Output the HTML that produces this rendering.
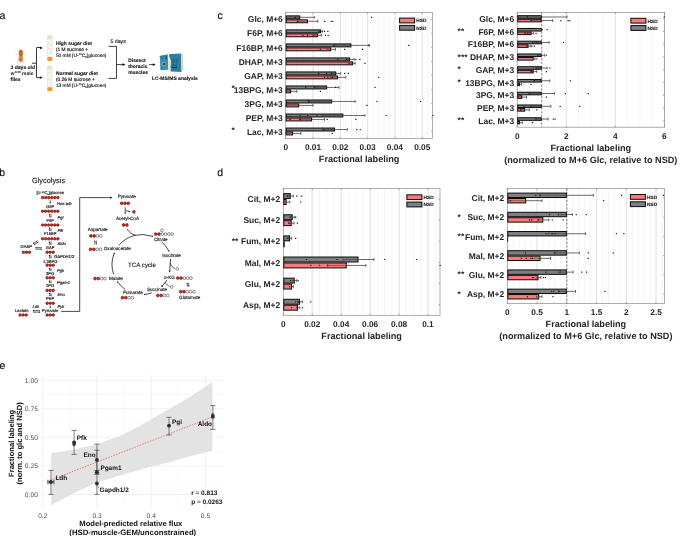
<!DOCTYPE html>
<html><head><meta charset="utf-8"><title>figure</title>
<style>
html,body{margin:0;padding:0;background:#fff;}
body{width:685px;height:536px;overflow:hidden;font-family:"Liberation Sans",sans-serif;}
svg{display:block;font-family:"Liberation Sans",sans-serif;will-change:transform;text-rendering:geometricPrecision;}
</style></head><body>
<svg width="685" height="536" viewBox="0 0 685 536">
<rect width="685" height="536" fill="#ffffff"/>
<text x="-0.60" y="18.78" font-size="10.5" font-weight="normal" font-style="normal" text-anchor="start" fill="#111" stroke="#111" stroke-width="0.15">a</text>
<text x="-0.80" y="175.78" font-size="10.5" font-weight="normal" font-style="normal" text-anchor="start" fill="#111" stroke="#111" stroke-width="0.15">b</text>
<text x="217.50" y="18.78" font-size="10.5" font-weight="normal" font-style="normal" text-anchor="start" fill="#111" stroke="#111" stroke-width="0.15">c</text>
<text x="217.20" y="175.88" font-size="10.5" font-weight="normal" font-style="normal" text-anchor="start" fill="#111" stroke="#111" stroke-width="0.15">d</text>
<text x="-0.50" y="369.18" font-size="10.5" font-weight="normal" font-style="normal" text-anchor="start" fill="#111" stroke="#111" stroke-width="0.15">e</text>
<path d="M291.16 12.30V138.50M296.62 12.30V138.50M302.08 12.30V138.50M307.54 12.30V138.50M313.00 12.30V138.50M318.47 12.30V138.50M323.93 12.30V138.50M329.39 12.30V138.50M334.85 12.30V138.50M340.31 12.30V138.50M345.77 12.30V138.50M351.23 12.30V138.50M356.69 12.30V138.50M362.15 12.30V138.50M367.61 12.30V138.50M373.08 12.30V138.50M378.54 12.30V138.50M384.00 12.30V138.50M389.46 12.30V138.50M394.92 12.30V138.50M400.38 12.30V138.50M405.84 12.30V138.50M411.30 12.30V138.50M416.76 12.30V138.50M422.22 12.30V138.50M427.69 12.30V138.50" stroke="#ececec" stroke-width="0.6" fill="none"/>
<path d="M313.00 12.30V138.50M340.31 12.30V138.50M367.61 12.30V138.50M394.92 12.30V138.50M422.22 12.30V138.50" stroke="#dcdcdc" stroke-width="0.7" fill="none"/>
<rect x="285.70" y="12.30" width="146.90" height="126.20" fill="none" stroke="#8c8c8c" stroke-width="0.7"/>
<path d="M285.70 138.50v-1.5M285.70 12.30v1.5M313.00 138.50v-1.5M313.00 12.30v1.5M340.31 138.50v-1.5M340.31 12.30v1.5M367.61 138.50v-1.5M367.61 12.30v1.5M394.92 138.50v-1.5M394.92 12.30v1.5M422.22 138.50v-1.5M422.22 12.30v1.5M285.70 19.31h1.5M432.60 19.31h-1.5M285.70 33.33h1.5M432.60 33.33h-1.5M285.70 47.36h1.5M432.60 47.36h-1.5M285.70 61.38h1.5M432.60 61.38h-1.5M285.70 75.40h1.5M432.60 75.40h-1.5M285.70 89.42h1.5M432.60 89.42h-1.5M285.70 103.44h1.5M432.60 103.44h-1.5M285.70 117.47h1.5M432.60 117.47h-1.5M285.70 131.49h1.5M432.60 131.49h-1.5" stroke="#777" stroke-width="0.6" fill="none"/>
<path d="M300.19 17.34H314.35M314.35 15.94v2.8" stroke="#3a3a3a" stroke-width="0.75" fill="none"/>
<path d="M307.95 21.28H317.72M317.72 19.88v2.8" stroke="#3a3a3a" stroke-width="0.75" fill="none"/>
<rect x="286.20" y="15.87" width="13.49" height="2.94" fill="#7f7f7f" stroke="#0a0a0a" stroke-width="1"/>
<rect x="286.20" y="19.81" width="21.25" height="2.94" fill="#fd7979" stroke="#0a0a0a" stroke-width="1"/>
<path d="M286.04 17.34H300.19M286.04 16.14v2.4" stroke="#2e2e2e" stroke-width="0.6" fill="none" opacity="0.8"/>
<path d="M298.17 21.28H307.95M298.17 20.08v2.4" stroke="#2e2e2e" stroke-width="0.6" fill="none" opacity="0.8"/>
<rect x="371.04" y="16.72" width="1.24" height="1.24" rx="0.3" fill="#161616"/>
<rect x="294.52" y="16.72" width="1.24" height="1.24" rx="0.3" fill="#161616"/>
<rect x="324.18" y="20.66" width="1.24" height="1.24" rx="0.3" fill="#161616"/>
<rect x="330.59" y="20.66" width="1.24" height="1.24" rx="0.3" fill="#161616"/>
<rect x="332.27" y="20.66" width="1.24" height="1.24" rx="0.3" fill="#161616"/>
<rect x="296.88" y="20.66" width="1.24" height="1.24" rx="0.3" fill="#161616"/>
<text x="282.80" y="22.45" font-size="8.45" font-weight="bold" font-style="normal" text-anchor="end" fill="#262626" >Glc, M+6</text>
<path d="M321.09 31.36H322.44M322.44 29.96v2.8" stroke="#3a3a3a" stroke-width="0.75" fill="none"/>
<path d="M318.06 35.30H321.43M321.43 33.90v2.8" stroke="#3a3a3a" stroke-width="0.75" fill="none"/>
<rect x="286.20" y="29.89" width="34.39" height="2.94" fill="#7f7f7f" stroke="#0a0a0a" stroke-width="1"/>
<rect x="286.20" y="33.83" width="31.36" height="2.94" fill="#fd7979" stroke="#0a0a0a" stroke-width="1"/>
<path d="M314.69 35.30H318.06M314.69 34.10v2.4" stroke="#2e2e2e" stroke-width="0.6" fill="none" opacity="0.8"/>
<rect x="323.85" y="30.74" width="1.24" height="1.24" rx="0.3" fill="#161616"/>
<rect x="327.22" y="30.74" width="1.24" height="1.24" rx="0.3" fill="#161616"/>
<rect x="318.45" y="30.74" width="1.24" height="1.24" rx="0.3" fill="#161616"/>
<rect x="324.86" y="34.68" width="1.24" height="1.24" rx="0.3" fill="#161616"/>
<rect x="327.55" y="34.68" width="1.24" height="1.24" rx="0.3" fill="#161616"/>
<rect x="302.27" y="34.68" width="1.24" height="1.24" rx="0.3" fill="#161616"/>
<rect x="306.99" y="34.68" width="1.24" height="1.24" rx="0.3" fill="#161616"/>
<rect x="312.38" y="34.68" width="1.24" height="1.24" rx="0.3" fill="#161616"/>
<text x="282.80" y="36.48" font-size="8.45" font-weight="bold" font-style="normal" text-anchor="end" fill="#262626" >F6P, M+6</text>
<path d="M351.43 45.39H369.30M369.30 43.99v2.8" stroke="#3a3a3a" stroke-width="0.75" fill="none"/>
<path d="M331.21 49.33H335.59M335.59 47.93v2.8" stroke="#3a3a3a" stroke-width="0.75" fill="none"/>
<rect x="286.20" y="43.92" width="64.73" height="2.94" fill="#7f7f7f" stroke="#0a0a0a" stroke-width="1"/>
<rect x="286.20" y="47.86" width="44.51" height="2.94" fill="#fd7979" stroke="#0a0a0a" stroke-width="1"/>
<path d="M333.57 45.39H351.43M333.57 44.19v2.4" stroke="#2e2e2e" stroke-width="0.6" fill="none" opacity="0.8"/>
<path d="M326.82 49.33H331.21M326.82 48.13v2.4" stroke="#2e2e2e" stroke-width="0.6" fill="none" opacity="0.8"/>
<rect x="408.12" y="44.77" width="1.24" height="1.24" rx="0.3" fill="#161616"/>
<rect x="333.28" y="44.77" width="1.24" height="1.24" rx="0.3" fill="#161616"/>
<rect x="368.00" y="44.77" width="1.24" height="1.24" rx="0.3" fill="#161616"/>
<rect x="344.07" y="48.71" width="1.24" height="1.24" rx="0.3" fill="#161616"/>
<rect x="361.94" y="48.71" width="1.24" height="1.24" rx="0.3" fill="#161616"/>
<rect x="319.80" y="48.71" width="1.24" height="1.24" rx="0.3" fill="#161616"/>
<text x="282.80" y="50.50" font-size="8.45" font-weight="bold" font-style="normal" text-anchor="end" fill="#262626" >F16BP, M+6</text>
<path d="M350.08 59.41H354.13M354.13 58.01v2.8" stroke="#3a3a3a" stroke-width="0.75" fill="none"/>
<path d="M353.12 63.35H355.14M355.14 61.95v2.8" stroke="#3a3a3a" stroke-width="0.75" fill="none"/>
<rect x="286.20" y="57.94" width="63.38" height="2.94" fill="#7f7f7f" stroke="#0a0a0a" stroke-width="1"/>
<rect x="286.20" y="61.88" width="66.42" height="2.94" fill="#fd7979" stroke="#0a0a0a" stroke-width="1"/>
<path d="M346.04 59.41H350.08M346.04 58.21v2.4" stroke="#2e2e2e" stroke-width="0.6" fill="none" opacity="0.8"/>
<path d="M351.10 63.35H353.12M351.10 62.15v2.4" stroke="#2e2e2e" stroke-width="0.6" fill="none" opacity="0.8"/>
<rect x="355.19" y="58.79" width="1.24" height="1.24" rx="0.3" fill="#161616"/>
<rect x="359.24" y="58.79" width="1.24" height="1.24" rx="0.3" fill="#161616"/>
<rect x="337.33" y="58.79" width="1.24" height="1.24" rx="0.3" fill="#161616"/>
<rect x="346.09" y="58.79" width="1.24" height="1.24" rx="0.3" fill="#161616"/>
<rect x="364.30" y="62.73" width="1.24" height="1.24" rx="0.3" fill="#161616"/>
<rect x="348.45" y="62.73" width="1.24" height="1.24" rx="0.3" fill="#161616"/>
<text x="282.80" y="64.52" font-size="8.45" font-weight="bold" font-style="normal" text-anchor="end" fill="#262626" >DHAP, M+3</text>
<path d="M336.26 73.43H340.65M340.65 72.03v2.8" stroke="#3a3a3a" stroke-width="0.75" fill="none"/>
<path d="M337.95 77.37H345.70M345.70 75.97v2.8" stroke="#3a3a3a" stroke-width="0.75" fill="none"/>
<rect x="286.20" y="71.96" width="49.56" height="2.94" fill="#7f7f7f" stroke="#0a0a0a" stroke-width="1"/>
<rect x="286.20" y="75.90" width="51.25" height="2.94" fill="#fd7979" stroke="#0a0a0a" stroke-width="1"/>
<path d="M331.88 73.43H336.26M331.88 72.23v2.4" stroke="#2e2e2e" stroke-width="0.6" fill="none" opacity="0.8"/>
<path d="M330.20 77.37H337.95M330.20 76.17v2.4" stroke="#2e2e2e" stroke-width="0.6" fill="none" opacity="0.8"/>
<rect x="344.07" y="72.81" width="1.24" height="1.24" rx="0.3" fill="#161616"/>
<rect x="347.78" y="72.81" width="1.24" height="1.24" rx="0.3" fill="#161616"/>
<rect x="318.11" y="72.81" width="1.24" height="1.24" rx="0.3" fill="#161616"/>
<rect x="325.87" y="72.81" width="1.24" height="1.24" rx="0.3" fill="#161616"/>
<rect x="330.59" y="72.81" width="1.24" height="1.24" rx="0.3" fill="#161616"/>
<rect x="378.12" y="76.75" width="1.24" height="1.24" rx="0.3" fill="#161616"/>
<rect x="323.85" y="76.75" width="1.24" height="1.24" rx="0.3" fill="#161616"/>
<rect x="327.22" y="76.75" width="1.24" height="1.24" rx="0.3" fill="#161616"/>
<rect x="331.60" y="76.75" width="1.24" height="1.24" rx="0.3" fill="#161616"/>
<text x="282.80" y="78.54" font-size="8.45" font-weight="bold" font-style="normal" text-anchor="end" fill="#262626" >GAP, M+3</text>
<path d="M327.16 87.45H338.96M338.96 86.05v2.8" stroke="#3a3a3a" stroke-width="0.75" fill="none"/>
<path d="M291.09 91.39H296.82M296.82 89.99v2.8" stroke="#3a3a3a" stroke-width="0.75" fill="none"/>
<rect x="286.20" y="85.98" width="40.46" height="2.94" fill="#7f7f7f" stroke="#0a0a0a" stroke-width="1"/>
<rect x="286.20" y="89.92" width="4.39" height="2.94" fill="#fd7979" stroke="#0a0a0a" stroke-width="1"/>
<path d="M315.36 87.45H327.16M315.36 86.25v2.4" stroke="#2e2e2e" stroke-width="0.6" fill="none" opacity="0.8"/>
<path d="M285.70 91.39H291.09M285.70 90.19v2.4" stroke="#2e2e2e" stroke-width="0.6" fill="none" opacity="0.8"/>
<rect x="334.97" y="86.83" width="1.24" height="1.24" rx="0.3" fill="#161616"/>
<rect x="374.41" y="86.83" width="1.24" height="1.24" rx="0.3" fill="#161616"/>
<rect x="304.97" y="86.83" width="1.24" height="1.24" rx="0.3" fill="#161616"/>
<rect x="313.73" y="86.83" width="1.24" height="1.24" rx="0.3" fill="#161616"/>
<rect x="319.80" y="90.77" width="1.24" height="1.24" rx="0.3" fill="#161616"/>
<text x="282.80" y="92.56" font-size="8.45" font-weight="bold" font-style="normal" text-anchor="end" fill="#262626" >13BPG, M+3</text>
<path d="M332.22 101.47H355.14M355.14 100.07v2.8" stroke="#3a3a3a" stroke-width="0.75" fill="none"/>
<path d="M299.18 105.41H313.00M313.00 104.01v2.8" stroke="#3a3a3a" stroke-width="0.75" fill="none"/>
<rect x="286.20" y="100.00" width="45.52" height="2.94" fill="#7f7f7f" stroke="#0a0a0a" stroke-width="1"/>
<rect x="286.20" y="103.94" width="12.48" height="2.94" fill="#fd7979" stroke="#0a0a0a" stroke-width="1"/>
<path d="M309.30 101.47H332.22M309.30 100.27v2.4" stroke="#2e2e2e" stroke-width="0.6" fill="none" opacity="0.8"/>
<path d="M285.70 105.41H299.18M285.70 104.21v2.4" stroke="#2e2e2e" stroke-width="0.6" fill="none" opacity="0.8"/>
<rect x="376.43" y="100.85" width="1.24" height="1.24" rx="0.3" fill="#161616"/>
<rect x="419.92" y="100.85" width="1.24" height="1.24" rx="0.3" fill="#161616"/>
<rect x="308.00" y="100.85" width="1.24" height="1.24" rx="0.3" fill="#161616"/>
<rect x="366.32" y="104.79" width="1.24" height="1.24" rx="0.3" fill="#161616"/>
<text x="282.80" y="106.59" font-size="8.45" font-weight="bold" font-style="normal" text-anchor="end" fill="#262626" >3PG, M+3</text>
<path d="M343.34 115.50H364.92M364.92 114.10v2.8" stroke="#3a3a3a" stroke-width="0.75" fill="none"/>
<path d="M311.99 119.44H324.47M324.47 118.04v2.8" stroke="#3a3a3a" stroke-width="0.75" fill="none"/>
<rect x="286.20" y="114.03" width="56.64" height="2.94" fill="#7f7f7f" stroke="#0a0a0a" stroke-width="1"/>
<rect x="286.20" y="117.97" width="25.29" height="2.94" fill="#fd7979" stroke="#0a0a0a" stroke-width="1"/>
<path d="M321.77 115.50H343.34M321.77 114.30v2.4" stroke="#2e2e2e" stroke-width="0.6" fill="none" opacity="0.8"/>
<path d="M299.52 119.44H311.99M299.52 118.24v2.4" stroke="#2e2e2e" stroke-width="0.6" fill="none" opacity="0.8"/>
<rect x="385.53" y="114.88" width="1.24" height="1.24" rx="0.3" fill="#161616"/>
<rect x="432.39" y="114.88" width="1.24" height="1.24" rx="0.3" fill="#161616"/>
<rect x="299.57" y="114.88" width="1.24" height="1.24" rx="0.3" fill="#161616"/>
<rect x="306.99" y="114.88" width="1.24" height="1.24" rx="0.3" fill="#161616"/>
<rect x="316.43" y="114.88" width="1.24" height="1.24" rx="0.3" fill="#161616"/>
<rect x="326.54" y="118.82" width="1.24" height="1.24" rx="0.3" fill="#161616"/>
<rect x="355.19" y="118.82" width="1.24" height="1.24" rx="0.3" fill="#161616"/>
<rect x="289.46" y="118.82" width="1.24" height="1.24" rx="0.3" fill="#161616"/>
<rect x="299.57" y="118.82" width="1.24" height="1.24" rx="0.3" fill="#161616"/>
<text x="282.80" y="120.61" font-size="8.45" font-weight="bold" font-style="normal" text-anchor="end" fill="#262626" >PEP, M+3</text>
<path d="M334.92 129.52H347.39M347.39 128.12v2.8" stroke="#3a3a3a" stroke-width="0.75" fill="none"/>
<path d="M293.12 133.46H300.87M300.87 132.06v2.8" stroke="#3a3a3a" stroke-width="0.75" fill="none"/>
<rect x="286.20" y="128.05" width="48.22" height="2.94" fill="#7f7f7f" stroke="#0a0a0a" stroke-width="1"/>
<rect x="286.20" y="131.99" width="6.42" height="2.94" fill="#fd7979" stroke="#0a0a0a" stroke-width="1"/>
<path d="M322.44 129.52H334.92M322.44 128.32v2.4" stroke="#2e2e2e" stroke-width="0.6" fill="none" opacity="0.8"/>
<path d="M285.70 133.46H293.12M285.70 132.26v2.4" stroke="#2e2e2e" stroke-width="0.6" fill="none" opacity="0.8"/>
<rect x="356.21" y="128.90" width="1.24" height="1.24" rx="0.3" fill="#161616"/>
<rect x="359.58" y="128.90" width="1.24" height="1.24" rx="0.3" fill="#161616"/>
<rect x="323.17" y="128.90" width="1.24" height="1.24" rx="0.3" fill="#161616"/>
<rect x="331.60" y="132.84" width="1.24" height="1.24" rx="0.3" fill="#161616"/>
<text x="282.80" y="134.63" font-size="8.45" font-weight="bold" font-style="normal" text-anchor="end" fill="#262626" >Lac, M+3</text>
<text x="231.50" y="91.06" font-size="8.45" font-weight="bold" font-style="normal" text-anchor="start" fill="#262626" >*</text>
<text x="231.50" y="133.13" font-size="8.45" font-weight="bold" font-style="normal" text-anchor="start" fill="#262626" >*</text>
<text x="285.70" y="150.09" font-size="8.3" font-weight="bold" font-style="normal" text-anchor="middle" fill="#262626" >0</text>
<text x="313.00" y="150.09" font-size="8.3" font-weight="bold" font-style="normal" text-anchor="middle" fill="#262626" >0.01</text>
<text x="340.31" y="150.09" font-size="8.3" font-weight="bold" font-style="normal" text-anchor="middle" fill="#262626" >0.02</text>
<text x="367.61" y="150.09" font-size="8.3" font-weight="bold" font-style="normal" text-anchor="middle" fill="#262626" >0.03</text>
<text x="394.92" y="150.09" font-size="8.3" font-weight="bold" font-style="normal" text-anchor="middle" fill="#262626" >0.04</text>
<text x="422.22" y="150.09" font-size="8.3" font-weight="bold" font-style="normal" text-anchor="middle" fill="#262626" >0.05</text>
<text x="359.15" y="162.29" font-size="9.15" font-weight="bold" font-style="normal" text-anchor="middle" fill="#262626" >Fractional labeling</text>
<rect x="399.60" y="18.10" width="15" height="4.8" fill="#fd7979" stroke="#0a0a0a" stroke-width="1"/>
<rect x="399.60" y="25.40" width="15" height="4.8" fill="#7f7f7f" stroke="#0a0a0a" stroke-width="1"/>
<text x="416.30" y="22.41" font-size="4.75" font-weight="bold" font-style="normal" text-anchor="start" fill="#111"  stroke="#111" stroke-width="0.1">HSD</text>
<text x="416.30" y="29.71" font-size="4.75" font-weight="bold" font-style="normal" text-anchor="start" fill="#111"  stroke="#111" stroke-width="0.1">NSD</text>
<path d="M529.47 12.40V127.20M541.73 12.40V127.20M554.00 12.40V127.20M566.27 12.40V127.20M578.53 12.40V127.20M590.80 12.40V127.20M603.07 12.40V127.20M615.33 12.40V127.20M627.60 12.40V127.20M639.87 12.40V127.20M652.13 12.40V127.20" stroke="#ececec" stroke-width="0.6" fill="none"/>
<path d="M566.27 12.40V127.20M615.33 12.40V127.20M664.40 12.40V127.20" stroke="#dcdcdc" stroke-width="0.7" fill="none"/>
<path d="M541.73 12.40V127.20" stroke="#555" stroke-width="0.7" stroke-dasharray="2.2 1.6" fill="none"/>
<rect x="517.20" y="12.40" width="147.20" height="114.80" fill="none" stroke="#8c8c8c" stroke-width="0.7"/>
<path d="M517.20 127.20v-1.5M517.20 12.40v1.5M566.27 127.20v-1.5M566.27 12.40v1.5M615.33 127.20v-1.5M615.33 12.40v1.5M664.40 127.20v-1.5M664.40 12.40v1.5M517.20 18.78h1.5M664.40 18.78h-1.5M517.20 31.53h1.5M664.40 31.53h-1.5M517.20 44.29h1.5M664.40 44.29h-1.5M517.20 57.04h1.5M664.40 57.04h-1.5M517.20 69.80h1.5M664.40 69.80h-1.5M517.20 82.56h1.5M664.40 82.56h-1.5M517.20 95.31h1.5M664.40 95.31h-1.5M517.20 108.07h1.5M664.40 108.07h-1.5M517.20 120.82h1.5M664.40 120.82h-1.5" stroke="#777" stroke-width="0.6" fill="none"/>
<path d="M541.73 16.99H567.02M567.02 15.59v2.8" stroke="#3a3a3a" stroke-width="0.75" fill="none"/>
<path d="M541.73 20.57H552.59M552.59 19.17v2.8" stroke="#3a3a3a" stroke-width="0.75" fill="none"/>
<rect x="517.70" y="15.69" width="23.53" height="2.58" fill="#7f7f7f" stroke="#0a0a0a" stroke-width="1"/>
<rect x="517.70" y="19.28" width="23.53" height="2.58" fill="#fd7979" stroke="#0a0a0a" stroke-width="1"/>
<path d="M517.20 16.99H541.73M517.20 15.79v2.4" stroke="#2e2e2e" stroke-width="0.6" fill="none" opacity="0.8"/>
<path d="M530.88 20.57H541.73M530.88 19.37v2.4" stroke="#2e2e2e" stroke-width="0.6" fill="none" opacity="0.8"/>
<rect x="663.64" y="16.37" width="1.24" height="1.24" rx="0.3" fill="#161616"/>
<rect x="526.89" y="16.37" width="1.24" height="1.24" rx="0.3" fill="#161616"/>
<rect x="560.22" y="19.95" width="1.24" height="1.24" rx="0.3" fill="#161616"/>
<rect x="567.43" y="19.95" width="1.24" height="1.24" rx="0.3" fill="#161616"/>
<rect x="569.15" y="19.95" width="1.24" height="1.24" rx="0.3" fill="#161616"/>
<rect x="530.32" y="19.95" width="1.24" height="1.24" rx="0.3" fill="#161616"/>
<text x="514.20" y="21.92" font-size="8.45" font-weight="bold" font-style="normal" text-anchor="end" fill="#262626" >Glc, M+6</text>
<path d="M531.63 33.33H533.69M533.69 31.93v2.8" stroke="#3a3a3a" stroke-width="0.75" fill="none"/>
<rect x="517.70" y="28.45" width="23.53" height="2.58" fill="#7f7f7f" stroke="#0a0a0a" stroke-width="1"/>
<rect x="517.70" y="32.03" width="13.43" height="2.58" fill="#fd7979" stroke="#0a0a0a" stroke-width="1"/>
<path d="M529.57 33.33H531.63M529.57 32.13v2.4" stroke="#2e2e2e" stroke-width="0.6" fill="none" opacity="0.8"/>
<rect x="541.66" y="29.12" width="1.24" height="1.24" rx="0.3" fill="#161616"/>
<rect x="546.47" y="29.12" width="1.24" height="1.24" rx="0.3" fill="#161616"/>
<rect x="535.48" y="32.71" width="1.24" height="1.24" rx="0.3" fill="#161616"/>
<rect x="524.48" y="32.71" width="1.24" height="1.24" rx="0.3" fill="#161616"/>
<rect x="527.23" y="32.71" width="1.24" height="1.24" rx="0.3" fill="#161616"/>
<text x="514.20" y="34.68" font-size="8.45" font-weight="bold" font-style="normal" text-anchor="end" fill="#262626" >F6P, M+6</text>
<path d="M541.73 42.50H549.16M549.16 41.10v2.8" stroke="#3a3a3a" stroke-width="0.75" fill="none"/>
<path d="M528.54 46.08H530.94M530.94 44.68v2.8" stroke="#3a3a3a" stroke-width="0.75" fill="none"/>
<rect x="517.70" y="41.20" width="23.53" height="2.58" fill="#7f7f7f" stroke="#0a0a0a" stroke-width="1"/>
<rect x="517.70" y="44.79" width="10.34" height="2.58" fill="#fd7979" stroke="#0a0a0a" stroke-width="1"/>
<path d="M534.31 42.50H541.73M534.31 41.30v2.4" stroke="#2e2e2e" stroke-width="0.6" fill="none" opacity="0.8"/>
<path d="M526.13 46.08H528.54M526.13 44.88v2.4" stroke="#2e2e2e" stroke-width="0.6" fill="none" opacity="0.8"/>
<rect x="562.97" y="41.88" width="1.24" height="1.24" rx="0.3" fill="#161616"/>
<rect x="532.04" y="41.88" width="1.24" height="1.24" rx="0.3" fill="#161616"/>
<rect x="536.17" y="41.88" width="1.24" height="1.24" rx="0.3" fill="#161616"/>
<rect x="533.76" y="45.46" width="1.24" height="1.24" rx="0.3" fill="#161616"/>
<rect x="531.35" y="45.46" width="1.24" height="1.24" rx="0.3" fill="#161616"/>
<text x="514.20" y="47.43" font-size="8.45" font-weight="bold" font-style="normal" text-anchor="end" fill="#262626" >F16BP, M+6</text>
<path d="M541.73 55.25H544.69M544.69 53.85v2.8" stroke="#3a3a3a" stroke-width="0.75" fill="none"/>
<path d="M533.69 58.84H535.07M535.07 57.44v2.8" stroke="#3a3a3a" stroke-width="0.75" fill="none"/>
<rect x="517.70" y="53.96" width="23.53" height="2.58" fill="#7f7f7f" stroke="#0a0a0a" stroke-width="1"/>
<rect x="517.70" y="57.54" width="15.49" height="2.58" fill="#fd7979" stroke="#0a0a0a" stroke-width="1"/>
<path d="M538.78 55.25H541.73M538.78 54.05v2.4" stroke="#2e2e2e" stroke-width="0.6" fill="none" opacity="0.8"/>
<rect x="545.79" y="54.63" width="1.24" height="1.24" rx="0.3" fill="#161616"/>
<rect x="537.20" y="54.63" width="1.24" height="1.24" rx="0.3" fill="#161616"/>
<rect x="536.17" y="58.22" width="1.24" height="1.24" rx="0.3" fill="#161616"/>
<text x="514.20" y="60.19" font-size="8.45" font-weight="bold" font-style="normal" text-anchor="end" fill="#262626" >DHAP, M+3</text>
<path d="M541.73 68.01H547.09M547.09 66.61v2.8" stroke="#3a3a3a" stroke-width="0.75" fill="none"/>
<path d="M533.69 71.59H536.79M536.79 70.19v2.8" stroke="#3a3a3a" stroke-width="0.75" fill="none"/>
<rect x="517.70" y="66.72" width="23.53" height="2.58" fill="#7f7f7f" stroke="#0a0a0a" stroke-width="1"/>
<rect x="517.70" y="70.30" width="15.49" height="2.58" fill="#fd7979" stroke="#0a0a0a" stroke-width="1"/>
<path d="M536.37 68.01H541.73M536.37 66.81v2.4" stroke="#2e2e2e" stroke-width="0.6" fill="none" opacity="0.8"/>
<path d="M530.60 71.59H533.69M530.60 70.39v2.4" stroke="#2e2e2e" stroke-width="0.6" fill="none" opacity="0.8"/>
<rect x="549.22" y="67.39" width="1.24" height="1.24" rx="0.3" fill="#161616"/>
<rect x="535.48" y="67.39" width="1.24" height="1.24" rx="0.3" fill="#161616"/>
<rect x="538.23" y="67.39" width="1.24" height="1.24" rx="0.3" fill="#161616"/>
<rect x="545.79" y="70.97" width="1.24" height="1.24" rx="0.3" fill="#161616"/>
<rect x="530.67" y="70.97" width="1.24" height="1.24" rx="0.3" fill="#161616"/>
<text x="514.20" y="72.94" font-size="8.45" font-weight="bold" font-style="normal" text-anchor="end" fill="#262626" >GAP, M+3</text>
<path d="M541.73 80.76H549.84M549.84 79.36v2.8" stroke="#3a3a3a" stroke-width="0.75" fill="none"/>
<path d="M519.95 84.35H521.67M521.67 82.95v2.8" stroke="#3a3a3a" stroke-width="0.75" fill="none"/>
<rect x="517.70" y="79.47" width="23.53" height="2.58" fill="#7f7f7f" stroke="#0a0a0a" stroke-width="1"/>
<rect x="517.70" y="83.06" width="1.75" height="2.58" fill="#fd7979" stroke="#0a0a0a" stroke-width="1"/>
<path d="M533.62 80.76H541.73M533.62 79.56v2.4" stroke="#2e2e2e" stroke-width="0.6" fill="none" opacity="0.8"/>
<path d="M518.23 84.35H519.95M518.23 83.15v2.4" stroke="#2e2e2e" stroke-width="0.6" fill="none" opacity="0.8"/>
<rect x="569.84" y="80.14" width="1.24" height="1.24" rx="0.3" fill="#161616"/>
<rect x="533.76" y="80.14" width="1.24" height="1.24" rx="0.3" fill="#161616"/>
<rect x="530.32" y="83.73" width="1.24" height="1.24" rx="0.3" fill="#161616"/>
<text x="514.20" y="85.70" font-size="8.45" font-weight="bold" font-style="normal" text-anchor="end" fill="#262626" >13BPG, M+3</text>
<path d="M541.73 93.52H554.31M554.31 92.12v2.8" stroke="#3a3a3a" stroke-width="0.75" fill="none"/>
<path d="M522.35 97.10H526.48M526.48 95.70v2.8" stroke="#3a3a3a" stroke-width="0.75" fill="none"/>
<rect x="517.70" y="92.23" width="23.53" height="2.58" fill="#7f7f7f" stroke="#0a0a0a" stroke-width="1"/>
<rect x="517.70" y="95.81" width="4.15" height="2.58" fill="#fd7979" stroke="#0a0a0a" stroke-width="1"/>
<path d="M529.16 93.52H541.73M529.16 92.32v2.4" stroke="#2e2e2e" stroke-width="0.6" fill="none" opacity="0.8"/>
<path d="M518.23 97.10H522.35M518.23 95.90v2.4" stroke="#2e2e2e" stroke-width="0.6" fill="none" opacity="0.8"/>
<rect x="564.68" y="92.90" width="1.24" height="1.24" rx="0.3" fill="#161616"/>
<rect x="587.71" y="92.90" width="1.24" height="1.24" rx="0.3" fill="#161616"/>
<rect x="528.61" y="92.90" width="1.24" height="1.24" rx="0.3" fill="#161616"/>
<rect x="545.79" y="96.48" width="1.24" height="1.24" rx="0.3" fill="#161616"/>
<text x="514.20" y="98.45" font-size="8.45" font-weight="bold" font-style="normal" text-anchor="end" fill="#262626" >3PG, M+3</text>
<path d="M541.73 106.27H550.87M550.87 104.87v2.8" stroke="#3a3a3a" stroke-width="0.75" fill="none"/>
<path d="M525.10 109.86H529.23M529.23 108.46v2.8" stroke="#3a3a3a" stroke-width="0.75" fill="none"/>
<rect x="517.70" y="104.98" width="23.53" height="2.58" fill="#7f7f7f" stroke="#0a0a0a" stroke-width="1"/>
<rect x="517.70" y="108.57" width="6.90" height="2.58" fill="#fd7979" stroke="#0a0a0a" stroke-width="1"/>
<path d="M532.59 106.27H541.73M532.59 105.07v2.4" stroke="#2e2e2e" stroke-width="0.6" fill="none" opacity="0.8"/>
<path d="M520.98 109.86H525.10M520.98 108.66v2.4" stroke="#2e2e2e" stroke-width="0.6" fill="none" opacity="0.8"/>
<rect x="559.53" y="105.65" width="1.24" height="1.24" rx="0.3" fill="#161616"/>
<rect x="579.12" y="105.65" width="1.24" height="1.24" rx="0.3" fill="#161616"/>
<rect x="523.45" y="105.65" width="1.24" height="1.24" rx="0.3" fill="#161616"/>
<rect x="530.32" y="105.65" width="1.24" height="1.24" rx="0.3" fill="#161616"/>
<rect x="536.17" y="109.24" width="1.24" height="1.24" rx="0.3" fill="#161616"/>
<rect x="520.02" y="109.24" width="1.24" height="1.24" rx="0.3" fill="#161616"/>
<text x="514.20" y="111.21" font-size="8.45" font-weight="bold" font-style="normal" text-anchor="end" fill="#262626" >PEP, M+3</text>
<path d="M541.73 119.03H548.12M548.12 117.63v2.8" stroke="#3a3a3a" stroke-width="0.75" fill="none"/>
<path d="M519.95 122.61H522.35M522.35 121.21v2.8" stroke="#3a3a3a" stroke-width="0.75" fill="none"/>
<rect x="517.70" y="117.74" width="23.53" height="2.58" fill="#7f7f7f" stroke="#0a0a0a" stroke-width="1"/>
<rect x="517.70" y="121.32" width="1.75" height="2.58" fill="#fd7979" stroke="#0a0a0a" stroke-width="1"/>
<path d="M535.34 119.03H541.73M535.34 117.83v2.4" stroke="#2e2e2e" stroke-width="0.6" fill="none" opacity="0.8"/>
<path d="M517.54 122.61H519.95M517.54 121.41v2.4" stroke="#2e2e2e" stroke-width="0.6" fill="none" opacity="0.8"/>
<rect x="552.66" y="118.41" width="1.24" height="1.24" rx="0.3" fill="#161616"/>
<rect x="554.38" y="118.41" width="1.24" height="1.24" rx="0.3" fill="#161616"/>
<rect x="535.48" y="118.41" width="1.24" height="1.24" rx="0.3" fill="#161616"/>
<rect x="532.04" y="121.99" width="1.24" height="1.24" rx="0.3" fill="#161616"/>
<text x="514.20" y="123.96" font-size="8.45" font-weight="bold" font-style="normal" text-anchor="end" fill="#262626" >Lac, M+3</text>
<text x="457.60" y="34.18" font-size="8.45" font-weight="bold" font-style="normal" text-anchor="start" fill="#262626" >**</text>
<text x="457.60" y="59.69" font-size="8.45" font-weight="bold" font-style="normal" text-anchor="start" fill="#262626" >***</text>
<text x="457.60" y="72.44" font-size="8.45" font-weight="bold" font-style="normal" text-anchor="start" fill="#262626" >*</text>
<text x="457.60" y="85.20" font-size="8.45" font-weight="bold" font-style="normal" text-anchor="start" fill="#262626" >*</text>
<text x="457.60" y="123.46" font-size="8.45" font-weight="bold" font-style="normal" text-anchor="start" fill="#262626" >**</text>
<text x="517.20" y="138.79" font-size="8.3" font-weight="bold" font-style="normal" text-anchor="middle" fill="#262626" >0</text>
<text x="566.27" y="138.79" font-size="8.3" font-weight="bold" font-style="normal" text-anchor="middle" fill="#262626" >2</text>
<text x="615.33" y="138.79" font-size="8.3" font-weight="bold" font-style="normal" text-anchor="middle" fill="#262626" >4</text>
<text x="664.40" y="138.79" font-size="8.3" font-weight="bold" font-style="normal" text-anchor="middle" fill="#262626" >6</text>
<text x="590.80" y="150.99" font-size="9.15" font-weight="bold" font-style="normal" text-anchor="middle" fill="#262626" >Fractional labeling</text>
<text x="590.80" y="162.69" font-size="9.15" font-weight="bold" font-style="normal" text-anchor="middle" fill="#262626" >(normalized to M+6 Glc, relative to NSD)</text>
<rect x="630.90" y="18.30" width="15" height="4.8" fill="#fd7979" stroke="#0a0a0a" stroke-width="1"/>
<rect x="630.90" y="25.60" width="15" height="4.8" fill="#7f7f7f" stroke="#0a0a0a" stroke-width="1"/>
<text x="647.60" y="22.61" font-size="4.75" font-weight="bold" font-style="normal" text-anchor="start" fill="#111"  stroke="#111" stroke-width="0.1">HSD</text>
<text x="647.60" y="29.91" font-size="4.75" font-weight="bold" font-style="normal" text-anchor="start" fill="#111"  stroke="#111" stroke-width="0.1">NSD</text>
<path d="M290.53 188.50V315.30M297.77 188.50V315.30M305.00 188.50V315.30M312.24 188.50V315.30M319.47 188.50V315.30M326.71 188.50V315.30M333.94 188.50V315.30M341.18 188.50V315.30M348.41 188.50V315.30M355.65 188.50V315.30M362.88 188.50V315.30M370.11 188.50V315.30M377.35 188.50V315.30M384.58 188.50V315.30M391.82 188.50V315.30M399.05 188.50V315.30M406.29 188.50V315.30M413.52 188.50V315.30M420.76 188.50V315.30M427.99 188.50V315.30M435.23 188.50V315.30" stroke="#ececec" stroke-width="0.6" fill="none"/>
<path d="M312.24 188.50V315.30M341.18 188.50V315.30M370.11 188.50V315.30M399.05 188.50V315.30M427.99 188.50V315.30" stroke="#dcdcdc" stroke-width="0.7" fill="none"/>
<rect x="283.30" y="188.50" width="156.70" height="126.80" fill="none" stroke="#8c8c8c" stroke-width="0.7"/>
<path d="M283.30 315.30v-1.5M283.30 188.50v1.5M312.24 315.30v-1.5M312.24 188.50v1.5M341.18 315.30v-1.5M341.18 188.50v1.5M370.11 315.30v-1.5M370.11 188.50v1.5M399.05 315.30v-1.5M399.05 188.50v1.5M427.99 315.30v-1.5M427.99 188.50v1.5M283.30 199.07h1.5M440.00 199.07h-1.5M283.30 220.20h1.5M440.00 220.20h-1.5M283.30 241.33h1.5M440.00 241.33h-1.5M283.30 262.47h1.5M440.00 262.47h-1.5M283.30 283.60h1.5M440.00 283.60h-1.5M283.30 304.73h1.5M440.00 304.73h-1.5" stroke="#777" stroke-width="0.6" fill="none"/>
<path d="M290.69 196.10H293.37M293.37 194.70v2.8" stroke="#3a3a3a" stroke-width="0.75" fill="none"/>
<path d="M286.66 202.04H289.68M289.68 200.64v2.8" stroke="#3a3a3a" stroke-width="0.75" fill="none"/>
<rect x="283.80" y="193.63" width="6.39" height="4.94" fill="#7f7f7f" stroke="#0a0a0a" stroke-width="1"/>
<rect x="283.80" y="199.57" width="2.36" height="4.94" fill="#fd7979" stroke="#0a0a0a" stroke-width="1"/>
<path d="M288.00 196.10H290.69M288.00 194.90v2.4" stroke="#2e2e2e" stroke-width="0.6" fill="none" opacity="0.8"/>
<path d="M283.64 202.04H286.66M283.64 200.84v2.4" stroke="#2e2e2e" stroke-width="0.6" fill="none" opacity="0.8"/>
<rect x="296.11" y="195.48" width="1.24" height="1.24" rx="0.3" fill="#161616"/>
<rect x="301.15" y="195.48" width="1.24" height="1.24" rx="0.3" fill="#161616"/>
<rect x="286.71" y="195.48" width="1.24" height="1.24" rx="0.3" fill="#161616"/>
<rect x="300.14" y="201.42" width="1.24" height="1.24" rx="0.3" fill="#161616"/>
<text x="280.20" y="202.21" font-size="8.45" font-weight="bold" font-style="normal" text-anchor="end" fill="#262626" >Cit, M+2</text>
<path d="M292.70 217.23H294.72M294.72 215.83v2.8" stroke="#3a3a3a" stroke-width="0.75" fill="none"/>
<path d="M291.69 223.17H294.04M294.04 221.77v2.8" stroke="#3a3a3a" stroke-width="0.75" fill="none"/>
<rect x="283.80" y="214.76" width="8.40" height="4.94" fill="#7f7f7f" stroke="#0a0a0a" stroke-width="1"/>
<rect x="283.80" y="220.70" width="7.39" height="4.94" fill="#fd7979" stroke="#0a0a0a" stroke-width="1"/>
<path d="M290.69 217.23H292.70M290.69 216.03v2.4" stroke="#2e2e2e" stroke-width="0.6" fill="none" opacity="0.8"/>
<path d="M289.34 223.17H291.69M289.34 221.97v2.4" stroke="#2e2e2e" stroke-width="0.6" fill="none" opacity="0.8"/>
<rect x="295.10" y="216.61" width="1.24" height="1.24" rx="0.3" fill="#161616"/>
<rect x="289.40" y="216.61" width="1.24" height="1.24" rx="0.3" fill="#161616"/>
<rect x="296.78" y="222.55" width="1.24" height="1.24" rx="0.3" fill="#161616"/>
<rect x="288.05" y="222.55" width="1.24" height="1.24" rx="0.3" fill="#161616"/>
<text x="280.20" y="223.34" font-size="8.45" font-weight="bold" font-style="normal" text-anchor="end" fill="#262626" >Suc, M+2</text>
<path d="M290.02 238.36H291.69M291.69 236.96v2.8" stroke="#3a3a3a" stroke-width="0.75" fill="none"/>
<rect x="283.80" y="235.89" width="5.72" height="4.94" fill="#7f7f7f" stroke="#0a0a0a" stroke-width="1"/>
<rect x="283.80" y="241.83" width="0.40" height="4.94" fill="#fd7979" stroke="#0a0a0a" stroke-width="1"/>
<path d="M288.34 238.36H290.02M288.34 237.16v2.4" stroke="#2e2e2e" stroke-width="0.6" fill="none" opacity="0.8"/>
<rect x="295.10" y="237.74" width="1.24" height="1.24" rx="0.3" fill="#161616"/>
<rect x="286.71" y="237.74" width="1.24" height="1.24" rx="0.3" fill="#161616"/>
<text x="280.20" y="244.48" font-size="8.45" font-weight="bold" font-style="normal" text-anchor="end" fill="#262626" >Fum, M+2</text>
<path d="M358.51 259.50H373.96M373.96 258.10v2.8" stroke="#3a3a3a" stroke-width="0.75" fill="none"/>
<path d="M346.76 265.44H365.90M365.90 264.04v2.8" stroke="#3a3a3a" stroke-width="0.75" fill="none"/>
<rect x="283.80" y="257.03" width="74.21" height="4.94" fill="#7f7f7f" stroke="#0a0a0a" stroke-width="1"/>
<rect x="283.80" y="262.97" width="62.46" height="4.94" fill="#fd7979" stroke="#0a0a0a" stroke-width="1"/>
<path d="M343.07 259.50H358.51M343.07 258.30v2.4" stroke="#2e2e2e" stroke-width="0.6" fill="none" opacity="0.8"/>
<path d="M327.62 265.44H346.76M327.62 264.24v2.4" stroke="#2e2e2e" stroke-width="0.6" fill="none" opacity="0.8"/>
<rect x="384.08" y="258.88" width="1.24" height="1.24" rx="0.3" fill="#161616"/>
<rect x="415.98" y="258.88" width="1.24" height="1.24" rx="0.3" fill="#161616"/>
<rect x="305.85" y="258.88" width="1.24" height="1.24" rx="0.3" fill="#161616"/>
<rect x="336.40" y="258.88" width="1.24" height="1.24" rx="0.3" fill="#161616"/>
<rect x="439.49" y="264.82" width="1.24" height="1.24" rx="0.3" fill="#161616"/>
<rect x="310.21" y="264.82" width="1.24" height="1.24" rx="0.3" fill="#161616"/>
<rect x="318.94" y="264.82" width="1.24" height="1.24" rx="0.3" fill="#161616"/>
<rect x="327.00" y="264.82" width="1.24" height="1.24" rx="0.3" fill="#161616"/>
<text x="280.20" y="265.61" font-size="8.45" font-weight="bold" font-style="normal" text-anchor="end" fill="#262626" >Mal, M+2</text>
<path d="M294.72 280.63H296.73M296.73 279.23v2.8" stroke="#3a3a3a" stroke-width="0.75" fill="none"/>
<path d="M292.03 286.57H293.37M293.37 285.17v2.8" stroke="#3a3a3a" stroke-width="0.75" fill="none"/>
<rect x="283.80" y="278.16" width="10.42" height="4.94" fill="#7f7f7f" stroke="#0a0a0a" stroke-width="1"/>
<rect x="283.80" y="284.10" width="7.73" height="4.94" fill="#fd7979" stroke="#0a0a0a" stroke-width="1"/>
<path d="M292.70 280.63H294.72M292.70 279.43v2.4" stroke="#2e2e2e" stroke-width="0.6" fill="none" opacity="0.8"/>
<rect x="297.45" y="280.01" width="1.24" height="1.24" rx="0.3" fill="#161616"/>
<rect x="290.07" y="280.01" width="1.24" height="1.24" rx="0.3" fill="#161616"/>
<rect x="289.06" y="285.95" width="1.24" height="1.24" rx="0.3" fill="#161616"/>
<text x="280.20" y="286.74" font-size="8.45" font-weight="bold" font-style="normal" text-anchor="end" fill="#262626" >Glu, M+2</text>
<path d="M300.09 301.76H302.44M302.44 300.36v2.8" stroke="#3a3a3a" stroke-width="0.75" fill="none"/>
<path d="M298.07 307.70H299.75M299.75 306.30v2.8" stroke="#3a3a3a" stroke-width="0.75" fill="none"/>
<rect x="283.80" y="299.29" width="15.79" height="4.94" fill="#7f7f7f" stroke="#0a0a0a" stroke-width="1"/>
<rect x="283.80" y="305.23" width="13.77" height="4.94" fill="#fd7979" stroke="#0a0a0a" stroke-width="1"/>
<path d="M297.74 301.76H300.09M297.74 300.56v2.4" stroke="#2e2e2e" stroke-width="0.6" fill="none" opacity="0.8"/>
<path d="M296.40 307.70H298.07M296.40 306.50v2.4" stroke="#2e2e2e" stroke-width="0.6" fill="none" opacity="0.8"/>
<rect x="310.21" y="301.14" width="1.24" height="1.24" rx="0.3" fill="#161616"/>
<rect x="295.10" y="301.14" width="1.24" height="1.24" rx="0.3" fill="#161616"/>
<rect x="297.45" y="301.14" width="1.24" height="1.24" rx="0.3" fill="#161616"/>
<rect x="301.82" y="307.08" width="1.24" height="1.24" rx="0.3" fill="#161616"/>
<rect x="291.07" y="307.08" width="1.24" height="1.24" rx="0.3" fill="#161616"/>
<text x="280.20" y="307.88" font-size="8.45" font-weight="bold" font-style="normal" text-anchor="end" fill="#262626" >Asp, M+2</text>
<text x="231.80" y="243.98" font-size="8.45" font-weight="bold" font-style="normal" text-anchor="start" fill="#262626" >**</text>
<text x="283.30" y="326.89" font-size="8.3" font-weight="bold" font-style="normal" text-anchor="middle" fill="#262626" >0</text>
<text x="312.24" y="326.89" font-size="8.3" font-weight="bold" font-style="normal" text-anchor="middle" fill="#262626" >0.02</text>
<text x="341.18" y="326.89" font-size="8.3" font-weight="bold" font-style="normal" text-anchor="middle" fill="#262626" >0.04</text>
<text x="370.11" y="326.89" font-size="8.3" font-weight="bold" font-style="normal" text-anchor="middle" fill="#262626" >0.06</text>
<text x="399.05" y="326.89" font-size="8.3" font-weight="bold" font-style="normal" text-anchor="middle" fill="#262626" >0.08</text>
<text x="427.99" y="326.89" font-size="8.3" font-weight="bold" font-style="normal" text-anchor="middle" fill="#262626" >0.1</text>
<text x="361.65" y="339.09" font-size="9.15" font-weight="bold" font-style="normal" text-anchor="middle" fill="#262626" >Fractional labeling</text>
<rect x="406.90" y="194.80" width="15" height="4.8" fill="#fd7979" stroke="#0a0a0a" stroke-width="1"/>
<rect x="406.90" y="202.10" width="15" height="4.8" fill="#7f7f7f" stroke="#0a0a0a" stroke-width="1"/>
<text x="423.60" y="199.11" font-size="4.75" font-weight="bold" font-style="normal" text-anchor="start" fill="#111"  stroke="#111" stroke-width="0.1">HSD</text>
<text x="423.60" y="206.41" font-size="4.75" font-weight="bold" font-style="normal" text-anchor="start" fill="#111"  stroke="#111" stroke-width="0.1">NSD</text>
<path d="M513.25 188.40V303.65M519.20 188.40V303.65M525.15 188.40V303.65M531.10 188.40V303.65M537.05 188.40V303.65M543.00 188.40V303.65M548.95 188.40V303.65M554.90 188.40V303.65M560.85 188.40V303.65M566.80 188.40V303.65M572.75 188.40V303.65M578.70 188.40V303.65M584.65 188.40V303.65M590.60 188.40V303.65M596.55 188.40V303.65M602.50 188.40V303.65M608.45 188.40V303.65M614.40 188.40V303.65M620.35 188.40V303.65M626.30 188.40V303.65M632.25 188.40V303.65M638.20 188.40V303.65M644.15 188.40V303.65M650.10 188.40V303.65M656.05 188.40V303.65M662.00 188.40V303.65" stroke="#ececec" stroke-width="0.6" fill="none"/>
<path d="M537.05 188.40V303.65M566.80 188.40V303.65M596.55 188.40V303.65M626.30 188.40V303.65M656.05 188.40V303.65" stroke="#dcdcdc" stroke-width="0.7" fill="none"/>
<path d="M566.80 188.40V303.65" stroke="#555" stroke-width="0.7" stroke-dasharray="2.2 1.6" fill="none"/>
<rect x="507.30" y="188.40" width="157.20" height="115.25" fill="none" stroke="#8c8c8c" stroke-width="0.7"/>
<path d="M507.30 303.65v-1.5M507.30 188.40v1.5M537.05 303.65v-1.5M537.05 188.40v1.5M566.80 303.65v-1.5M566.80 188.40v1.5M596.55 303.65v-1.5M596.55 188.40v1.5M626.30 303.65v-1.5M626.30 188.40v1.5M656.05 303.65v-1.5M656.05 188.40v1.5M507.30 198.00h1.5M664.50 198.00h-1.5M507.30 217.21h1.5M664.50 217.21h-1.5M507.30 236.42h1.5M664.50 236.42h-1.5M507.30 255.63h1.5M664.50 255.63h-1.5M507.30 274.84h1.5M664.50 274.84h-1.5M507.30 294.05h1.5M664.50 294.05h-1.5" stroke="#777" stroke-width="0.6" fill="none"/>
<path d="M566.80 195.31H593.38M593.38 193.91v2.8" stroke="#3a3a3a" stroke-width="0.75" fill="none"/>
<path d="M526.16 200.70H541.94M541.94 199.30v2.8" stroke="#3a3a3a" stroke-width="0.75" fill="none"/>
<rect x="507.80" y="193.11" width="58.50" height="4.40" fill="#7f7f7f" stroke="#0a0a0a" stroke-width="1"/>
<rect x="507.80" y="198.50" width="17.86" height="4.40" fill="#fd7979" stroke="#0a0a0a" stroke-width="1"/>
<path d="M540.22 195.31H566.80M540.22 194.11v2.4" stroke="#2e2e2e" stroke-width="0.6" fill="none" opacity="0.8"/>
<path d="M510.39 200.70H526.16M510.39 199.50v2.4" stroke="#2e2e2e" stroke-width="0.6" fill="none" opacity="0.8"/>
<rect x="620.88" y="194.69" width="1.24" height="1.24" rx="0.3" fill="#161616"/>
<rect x="662.72" y="194.69" width="1.24" height="1.24" rx="0.3" fill="#161616"/>
<rect x="535.14" y="194.69" width="1.24" height="1.24" rx="0.3" fill="#161616"/>
<rect x="539.26" y="194.69" width="1.24" height="1.24" rx="0.3" fill="#161616"/>
<rect x="603.05" y="200.08" width="1.24" height="1.24" rx="0.3" fill="#161616"/>
<rect x="509.42" y="200.08" width="1.24" height="1.24" rx="0.3" fill="#161616"/>
<text x="504.20" y="201.15" font-size="8.45" font-weight="bold" font-style="normal" text-anchor="end" fill="#262626" >Cit, M+2</text>
<path d="M566.80 214.51H572.46M572.46 213.11v2.8" stroke="#3a3a3a" stroke-width="0.75" fill="none"/>
<path d="M543.31 219.91H548.80M548.80 218.51v2.8" stroke="#3a3a3a" stroke-width="0.75" fill="none"/>
<rect x="507.80" y="212.31" width="58.50" height="4.40" fill="#7f7f7f" stroke="#0a0a0a" stroke-width="1"/>
<rect x="507.80" y="217.71" width="35.01" height="4.40" fill="#fd7979" stroke="#0a0a0a" stroke-width="1"/>
<path d="M561.14 214.51H566.80M561.14 213.31v2.4" stroke="#2e2e2e" stroke-width="0.6" fill="none" opacity="0.8"/>
<path d="M537.82 219.91H543.31M537.82 218.71v2.4" stroke="#2e2e2e" stroke-width="0.6" fill="none" opacity="0.8"/>
<rect x="575.61" y="213.89" width="1.24" height="1.24" rx="0.3" fill="#161616"/>
<rect x="585.56" y="213.89" width="1.24" height="1.24" rx="0.3" fill="#161616"/>
<rect x="548.86" y="213.89" width="1.24" height="1.24" rx="0.3" fill="#161616"/>
<rect x="557.78" y="213.89" width="1.24" height="1.24" rx="0.3" fill="#161616"/>
<rect x="551.61" y="219.29" width="1.24" height="1.24" rx="0.3" fill="#161616"/>
<rect x="562.58" y="219.29" width="1.24" height="1.24" rx="0.3" fill="#161616"/>
<rect x="528.97" y="219.29" width="1.24" height="1.24" rx="0.3" fill="#161616"/>
<rect x="531.03" y="219.29" width="1.24" height="1.24" rx="0.3" fill="#161616"/>
<rect x="537.89" y="219.29" width="1.24" height="1.24" rx="0.3" fill="#161616"/>
<text x="504.20" y="220.35" font-size="8.45" font-weight="bold" font-style="normal" text-anchor="end" fill="#262626" >Suc, M+2</text>
<path d="M566.80 233.72H585.49M585.49 232.32v2.8" stroke="#3a3a3a" stroke-width="0.75" fill="none"/>
<rect x="507.80" y="231.52" width="58.50" height="4.40" fill="#7f7f7f" stroke="#0a0a0a" stroke-width="1"/>
<rect x="507.30" y="236.42" width="0.9" height="5.40" fill="#0a0a0a"/>
<path d="M548.11 233.72H566.80M548.11 232.52v2.4" stroke="#2e2e2e" stroke-width="0.6" fill="none" opacity="0.8"/>
<rect x="615.74" y="233.10" width="1.24" height="1.24" rx="0.3" fill="#161616"/>
<rect x="623.28" y="233.10" width="1.24" height="1.24" rx="0.3" fill="#161616"/>
<rect x="545.43" y="233.10" width="1.24" height="1.24" rx="0.3" fill="#161616"/>
<rect x="551.61" y="233.10" width="1.24" height="1.24" rx="0.3" fill="#161616"/>
<rect x="554.35" y="233.10" width="1.24" height="1.24" rx="0.3" fill="#161616"/>
<text x="504.20" y="239.56" font-size="8.45" font-weight="bold" font-style="normal" text-anchor="end" fill="#262626" >Fum, M+2</text>
<path d="M566.80 252.93H579.32M579.32 251.53v2.8" stroke="#3a3a3a" stroke-width="0.75" fill="none"/>
<path d="M540.57 258.33H550.51M550.51 256.93v2.8" stroke="#3a3a3a" stroke-width="0.75" fill="none"/>
<rect x="507.80" y="250.73" width="58.50" height="4.40" fill="#7f7f7f" stroke="#0a0a0a" stroke-width="1"/>
<rect x="507.80" y="256.13" width="32.27" height="4.40" fill="#fd7979" stroke="#0a0a0a" stroke-width="1"/>
<path d="M554.28 252.93H566.80M554.28 251.73v2.4" stroke="#2e2e2e" stroke-width="0.6" fill="none" opacity="0.8"/>
<path d="M530.62 258.33H540.57M530.62 257.13v2.4" stroke="#2e2e2e" stroke-width="0.6" fill="none" opacity="0.8"/>
<rect x="587.61" y="252.31" width="1.24" height="1.24" rx="0.3" fill="#161616"/>
<rect x="612.65" y="252.31" width="1.24" height="1.24" rx="0.3" fill="#161616"/>
<rect x="524.86" y="252.31" width="1.24" height="1.24" rx="0.3" fill="#161616"/>
<rect x="554.35" y="252.31" width="1.24" height="1.24" rx="0.3" fill="#161616"/>
<rect x="587.61" y="257.71" width="1.24" height="1.24" rx="0.3" fill="#161616"/>
<rect x="520.74" y="257.71" width="1.24" height="1.24" rx="0.3" fill="#161616"/>
<rect x="525.54" y="257.71" width="1.24" height="1.24" rx="0.3" fill="#161616"/>
<rect x="531.71" y="257.71" width="1.24" height="1.24" rx="0.3" fill="#161616"/>
<text x="504.20" y="258.77" font-size="8.45" font-weight="bold" font-style="normal" text-anchor="end" fill="#262626" >Mal, M+2</text>
<path d="M566.80 272.14H573.14M573.14 270.74v2.8" stroke="#3a3a3a" stroke-width="0.75" fill="none"/>
<path d="M538.51 277.54H540.91M540.91 276.14v2.8" stroke="#3a3a3a" stroke-width="0.75" fill="none"/>
<rect x="507.80" y="269.94" width="58.50" height="4.40" fill="#7f7f7f" stroke="#0a0a0a" stroke-width="1"/>
<rect x="507.80" y="275.34" width="30.21" height="4.40" fill="#fd7979" stroke="#0a0a0a" stroke-width="1"/>
<path d="M560.46 272.14H566.80M560.46 270.94v2.4" stroke="#2e2e2e" stroke-width="0.6" fill="none" opacity="0.8"/>
<path d="M536.11 277.54H538.51M536.11 276.34v2.4" stroke="#2e2e2e" stroke-width="0.6" fill="none" opacity="0.8"/>
<rect x="581.10" y="271.52" width="1.24" height="1.24" rx="0.3" fill="#161616"/>
<rect x="585.90" y="271.52" width="1.24" height="1.24" rx="0.3" fill="#161616"/>
<rect x="545.43" y="271.52" width="1.24" height="1.24" rx="0.3" fill="#161616"/>
<rect x="558.46" y="271.52" width="1.24" height="1.24" rx="0.3" fill="#161616"/>
<rect x="542.69" y="276.92" width="1.24" height="1.24" rx="0.3" fill="#161616"/>
<rect x="544.75" y="276.92" width="1.24" height="1.24" rx="0.3" fill="#161616"/>
<rect x="531.71" y="276.92" width="1.24" height="1.24" rx="0.3" fill="#161616"/>
<rect x="533.09" y="276.92" width="1.24" height="1.24" rx="0.3" fill="#161616"/>
<text x="504.20" y="277.98" font-size="8.45" font-weight="bold" font-style="normal" text-anchor="end" fill="#262626" >Glu, M+2</text>
<path d="M566.80 291.35H575.55M575.55 289.95v2.8" stroke="#3a3a3a" stroke-width="0.75" fill="none"/>
<path d="M539.19 296.74H541.94M541.94 295.34v2.8" stroke="#3a3a3a" stroke-width="0.75" fill="none"/>
<rect x="507.80" y="289.15" width="58.50" height="4.40" fill="#7f7f7f" stroke="#0a0a0a" stroke-width="1"/>
<rect x="507.80" y="294.55" width="30.89" height="4.40" fill="#fd7979" stroke="#0a0a0a" stroke-width="1"/>
<path d="M558.06 291.35H566.80M558.06 290.15v2.4" stroke="#2e2e2e" stroke-width="0.6" fill="none" opacity="0.8"/>
<path d="M536.45 296.74H539.19M536.45 295.54v2.4" stroke="#2e2e2e" stroke-width="0.6" fill="none" opacity="0.8"/>
<rect x="604.42" y="290.73" width="1.24" height="1.24" rx="0.3" fill="#161616"/>
<rect x="550.92" y="290.73" width="1.24" height="1.24" rx="0.3" fill="#161616"/>
<rect x="552.98" y="290.73" width="1.24" height="1.24" rx="0.3" fill="#161616"/>
<rect x="558.46" y="290.73" width="1.24" height="1.24" rx="0.3" fill="#161616"/>
<rect x="552.29" y="296.12" width="1.24" height="1.24" rx="0.3" fill="#161616"/>
<rect x="526.91" y="296.12" width="1.24" height="1.24" rx="0.3" fill="#161616"/>
<text x="504.20" y="297.19" font-size="8.45" font-weight="bold" font-style="normal" text-anchor="end" fill="#262626" >Asp, M+2</text>
<text x="457.60" y="219.85" font-size="8.45" font-weight="bold" font-style="normal" text-anchor="start" fill="#262626" >*</text>
<text x="457.60" y="239.06" font-size="8.45" font-weight="bold" font-style="normal" text-anchor="start" fill="#262626" >**</text>
<text x="457.60" y="277.48" font-size="8.45" font-weight="bold" font-style="normal" text-anchor="start" fill="#262626" >**</text>
<text x="457.60" y="296.69" font-size="8.45" font-weight="bold" font-style="normal" text-anchor="start" fill="#262626" >*</text>
<text x="507.30" y="315.24" font-size="8.3" font-weight="bold" font-style="normal" text-anchor="middle" fill="#262626" >0</text>
<text x="537.05" y="315.24" font-size="8.3" font-weight="bold" font-style="normal" text-anchor="middle" fill="#262626" >0.5</text>
<text x="566.80" y="315.24" font-size="8.3" font-weight="bold" font-style="normal" text-anchor="middle" fill="#262626" >1</text>
<text x="596.55" y="315.24" font-size="8.3" font-weight="bold" font-style="normal" text-anchor="middle" fill="#262626" >1.5</text>
<text x="626.30" y="315.24" font-size="8.3" font-weight="bold" font-style="normal" text-anchor="middle" fill="#262626" >2</text>
<text x="656.05" y="315.24" font-size="8.3" font-weight="bold" font-style="normal" text-anchor="middle" fill="#262626" >2.5</text>
<text x="585.90" y="327.44" font-size="9.15" font-weight="bold" font-style="normal" text-anchor="middle" fill="#262626" >Fractional labeling</text>
<text x="585.90" y="339.14" font-size="9.15" font-weight="bold" font-style="normal" text-anchor="middle" fill="#262626" >(normalized to M+6 Glc, relative to NSD)</text>
<rect x="630.40" y="194.50" width="15" height="4.8" fill="#fd7979" stroke="#0a0a0a" stroke-width="1"/>
<rect x="630.40" y="201.80" width="15" height="4.8" fill="#7f7f7f" stroke="#0a0a0a" stroke-width="1"/>
<text x="647.10" y="198.81" font-size="4.75" font-weight="bold" font-style="normal" text-anchor="start" fill="#111"  stroke="#111" stroke-width="0.1">HSD</text>
<text x="647.10" y="206.11" font-size="4.75" font-weight="bold" font-style="normal" text-anchor="start" fill="#111"  stroke="#111" stroke-width="0.1">NSD</text>
<path d="M41.00 494.40H224.00M41.00 465.85H224.00M41.00 437.30H224.00M41.00 408.75H224.00M41.00 380.20H224.00M42.80 374.70V509.00M97.03 374.70V509.00M151.26 374.70V509.00M205.49 374.70V509.00" stroke="#e6e6e6" stroke-width="0.55" fill="none"/>
<path d="M41.00 480.12H224.00M41.00 451.57H224.00M41.00 423.02H224.00M41.00 394.47H224.00M69.91 374.70V509.00M124.14 374.70V509.00M178.38 374.70V509.00" stroke="#f1f1f1" stroke-width="0.4" fill="none"/>
<polygon points="51.19,453.35 73.13,449.69 96.89,444.20 120.66,435.80 146.25,422.27 168.19,409.47 190.13,396.67 212.43,382.05 212.43,450.79 190.13,456.27 168.19,462.49 146.25,467.97 120.66,475.28 96.89,482.60 73.13,493.56 51.19,505.27" fill="#e3e3e3"/>
<path d="M50.9 480.0L212.9 416.8" stroke="#ee5a4a" stroke-width="0.8" stroke-dasharray="1.5 1.3" fill="none"/>
<path d="M50.90 470.40V494.40M48.30 470.40h5.2M48.30 494.40h5.2" stroke="#4a4a4a" stroke-width="0.7" fill="none"/>
<path d="M74.10 430.40V454.40M71.50 430.40h5.2M71.50 454.40h5.2" stroke="#4a4a4a" stroke-width="0.7" fill="none"/>
<path d="M96.90 444.10V470.50M94.30 444.10h5.2M94.30 470.50h5.2" stroke="#4a4a4a" stroke-width="0.7" fill="none"/>
<path d="M96.90 450.20V473.00M94.30 450.20h5.2M94.30 473.00h5.2" stroke="#4a4a4a" stroke-width="0.7" fill="none"/>
<path d="M96.90 474.50V494.40M94.30 474.50h5.2M94.30 494.40h5.2" stroke="#4a4a4a" stroke-width="0.7" fill="none"/>
<path d="M169.00 417.30V435.00M166.40 417.30h5.2M166.40 435.00h5.2" stroke="#4a4a4a" stroke-width="0.7" fill="none"/>
<path d="M212.90 405.60V429.40M210.30 405.60h5.2M210.30 429.40h5.2" stroke="#4a4a4a" stroke-width="0.7" fill="none"/>
<path d="M47.9 482H53.9M47.9 479.8v4.4M53.9 479.8v4.4" stroke="#333" stroke-width="0.9" fill="none"/>
<path d="M95 472.2H98.8" stroke="#4a4a4a" stroke-width="0.7" fill="none"/>
<circle cx="50.90" cy="482.00" r="1.9" fill="#2b2b2b"/>
<text x="55.40" y="480.12" font-size="6.45" font-weight="bold" font-style="normal" text-anchor="start" fill="#111" >Ldh</text>
<circle cx="74.10" cy="442.50" r="1.9" fill="#2b2b2b"/>
<text x="76.80" y="439.62" font-size="6.45" font-weight="bold" font-style="normal" text-anchor="start" fill="#111" >Pfk</text>
<circle cx="96.90" cy="459.90" r="1.9" fill="#2b2b2b"/>
<text x="95.60" y="456.72" font-size="6.45" font-weight="bold" font-style="normal" text-anchor="end" fill="#111" >Eno</text>
<circle cx="96.90" cy="472.20" r="1.9" fill="#2b2b2b"/>
<text x="100.40" y="469.52" font-size="6.45" font-weight="bold" font-style="normal" text-anchor="start" fill="#111" >Pgam1</text>
<circle cx="96.90" cy="483.50" r="1.9" fill="#2b2b2b"/>
<text x="99.40" y="491.62" font-size="6.45" font-weight="bold" font-style="normal" text-anchor="start" fill="#111" >Gapdh1/2</text>
<circle cx="169.00" cy="425.70" r="1.9" fill="#2b2b2b"/>
<text x="172.00" y="423.52" font-size="6.45" font-weight="bold" font-style="normal" text-anchor="start" fill="#111" >Pgi</text>
<circle cx="212.90" cy="416.80" r="1.9" fill="#2b2b2b"/>
<text x="212.00" y="425.72" font-size="6.45" font-weight="bold" font-style="normal" text-anchor="end" fill="#111" >Aldo</text>
<circle cx="74.1" cy="444.4" r="1.8" fill="#2b2b2b" opacity="0.8"/><circle cx="212.8" cy="415.0" r="1.8" fill="#2b2b2b" opacity="0.8"/>
<path d="M94.3 456.5L96.2 458.6M99.8 468.6L97.9 470.6M98.9 488.3L97.6 485.4" stroke="#444" stroke-width="0.5" fill="none"/>
<text x="37.90" y="496.81" font-size="6.7" font-weight="normal" font-style="normal" text-anchor="end" fill="#4d4d4d" >0.00</text>
<text x="37.90" y="468.26" font-size="6.7" font-weight="normal" font-style="normal" text-anchor="end" fill="#4d4d4d" >0.25</text>
<text x="37.90" y="439.71" font-size="6.7" font-weight="normal" font-style="normal" text-anchor="end" fill="#4d4d4d" >0.50</text>
<text x="37.90" y="411.16" font-size="6.7" font-weight="normal" font-style="normal" text-anchor="end" fill="#4d4d4d" >0.75</text>
<text x="37.90" y="382.61" font-size="6.7" font-weight="normal" font-style="normal" text-anchor="end" fill="#4d4d4d" >1.00</text>
<text x="42.80" y="517.61" font-size="6.7" font-weight="normal" font-style="normal" text-anchor="middle" fill="#4d4d4d" >0.2</text>
<text x="97.03" y="517.61" font-size="6.7" font-weight="normal" font-style="normal" text-anchor="middle" fill="#4d4d4d" >0.3</text>
<text x="151.26" y="517.61" font-size="6.7" font-weight="normal" font-style="normal" text-anchor="middle" fill="#4d4d4d" >0.4</text>
<text x="205.49" y="517.61" font-size="6.7" font-weight="normal" font-style="normal" text-anchor="middle" fill="#4d4d4d" >0.5</text>
<text x="191.20" y="494.64" font-size="6.5" font-weight="bold" font-style="normal" text-anchor="start" fill="#111" >r = 0.813</text>
<text x="191.20" y="503.94" font-size="6.5" font-weight="bold" font-style="normal" text-anchor="start" fill="#111" >p = 0.0263</text>
<text x="130.80" y="525.74" font-size="7.6" font-weight="bold" font-style="normal" text-anchor="middle" fill="#111" >Model-predicted relative flux</text>
<text x="132.80" y="534.80" font-size="7.78" font-weight="bold" font-style="normal" text-anchor="middle" fill="#111" >(HSD-muscle-GEM/unconstrained)</text>
<g transform="translate(11.0 443.4) rotate(-90)">
<text x="0.00" y="2.74" font-size="7.6" font-weight="bold" font-style="normal" text-anchor="middle" fill="#111" >Fractional labeling</text>
<text x="0.00" y="11.24" font-size="7.6" font-weight="bold" font-style="normal" text-anchor="middle" fill="#111" >(norm. to glc and NSD)</text>
</g>
<g>
<path d="M19.6 53.3L17.0 50.6M22.0 53.3L24.9 50.6M19.3 54.6L14.6 54.1M22.5 54.6L27.4 54.1M19.6 57.5L17.2 61.5M22.2 57.5L24.6 61.5" stroke="#ebbd8f" stroke-width="0.55" fill="none" opacity="0.85"/>
<ellipse cx="19.5" cy="59.6" rx="1.9" ry="4.2" fill="#f0dcc4" opacity="0.8" transform="rotate(10 19.5 59.6)"/>
<ellipse cx="22.2" cy="59.6" rx="1.9" ry="4.2" fill="#f0dcc4" opacity="0.8" transform="rotate(-10 22.2 59.6)"/>
<ellipse cx="20.85" cy="58.4" rx="2.2" ry="3.4" fill="#cf9a68"/>
<ellipse cx="20.85" cy="59.4" rx="1.2" ry="2.0" fill="#b8794a"/>
<ellipse cx="20.85" cy="53.2" rx="2.0" ry="3.2" fill="#cc640f"/>
<ellipse cx="20.85" cy="50.7" rx="1.5" ry="1.0" fill="#c25a10"/>
</g>
<text x="10.60" y="68.90" font-size="5.0" font-weight="bold" font-style="normal" text-anchor="start" fill="#111"  stroke="#111" stroke-width="0.1">3 days old</text>
<text x="10.6" y="75.00" font-size="5" font-weight="bold" font-style="italic" fill="#111">w<tspan font-size="3" dy="-1.8">1118</tspan><tspan dy="1.8" font-style="normal"> male</tspan></text>
<text x="10.60" y="81.00" font-size="5.0" font-weight="bold" font-style="normal" text-anchor="start" fill="#111"  stroke="#111" stroke-width="0.1">flies</text>
<path d="M31.9 63.2H36.5M36.5 47.9V77.6M36.5 47.5H40.4M36.5 77.6H40.4" stroke="#222" stroke-width="0.9" fill="none"/>
<path d="M42.8 47.9l-2.9 -1.4v2.8zM42.8 77.6l-2.9 -1.4v2.8z" fill="#111"/>
<rect x="47.35" y="35.50" width="5.0" height="25.2" rx="0.7" fill="#f8f5ef"/>
<path d="M47.55 38.50V57.50M52.15 38.50V57.50" stroke="#e2dbcd" stroke-width="0.5"/>
<rect x="47.35" y="35.50" width="5.0" height="3.7" rx="0.7" fill="#e7dfd0"/>
<rect x="47.35" y="57.10" width="5.0" height="3.8" rx="0.6" fill="#f29a1f"/>
<path d="M48.55 42.50h0.8M50.35 45.00h0.8M48.85 49.00h0.8M50.15 52.50h0.8" stroke="#e3a55a" stroke-width="0.6"/>
<rect x="47.35" y="65.70" width="5.0" height="25.2" rx="0.7" fill="#f8f5ef"/>
<path d="M47.55 68.70V87.70M52.15 68.70V87.70" stroke="#e2dbcd" stroke-width="0.5"/>
<rect x="47.35" y="65.70" width="5.0" height="3.7" rx="0.7" fill="#e7dfd0"/>
<rect x="47.35" y="87.30" width="5.0" height="3.8" rx="0.6" fill="#f29a1f"/>
<path d="M48.55 72.70h0.8M50.35 75.20h0.8M48.85 79.20h0.8M50.15 82.70h0.8" stroke="#e3a55a" stroke-width="0.6"/>
<text x="55.90" y="44.58" font-size="4.95" font-weight="bold" font-style="normal" text-anchor="start" fill="#111"  stroke="#111" stroke-width="0.1">High sugar diet</text>
<text x="55.90" y="50.75" font-size="4.85" font-weight="normal" font-style="normal" text-anchor="start" fill="#111"  stroke="#111" stroke-width="0.16">(1 M sucrose +</text>
<text x="55.9" y="57.00" font-size="4.85" fill="#111" stroke="#111" stroke-width="0.12">50 mM [U-<tspan font-size="2.9" dy="-1.6">13</tspan><tspan dy="1.6">C</tspan><tspan font-size="2.9" dy="0.9">6</tspan><tspan dy="-0.9">]glucose)</tspan></text>
<text x="55.90" y="74.98" font-size="4.95" font-weight="bold" font-style="normal" text-anchor="start" fill="#111"  stroke="#111" stroke-width="0.1">Normal sugar diet</text>
<text x="55.90" y="81.05" font-size="4.85" font-weight="normal" font-style="normal" text-anchor="start" fill="#111"  stroke="#111" stroke-width="0.16">(0.26 M sucrose +</text>
<text x="55.9" y="86.90" font-size="4.85" fill="#111" stroke="#111" stroke-width="0.12">13 mM [U-<tspan font-size="2.9" dy="-1.6">13</tspan><tspan dy="1.6">C</tspan><tspan font-size="2.9" dy="0.9">6</tspan><tspan dy="-0.9">]glucose)</tspan></text>
<text x="110.40" y="42.89" font-size="5.25" font-weight="normal" font-style="normal" text-anchor="start" fill="#111" stroke="#111" stroke-width="0.12">5 days</text>
<path d="M108.4 46.4H116.5V78.4H108.4M116.5 64.6H123" stroke="#111" stroke-width="0.8" fill="none"/>
<path d="M125.4 64.6l-2.9 -1.4v2.8z" fill="#111"/>
<text x="128.20" y="62.08" font-size="4.95" font-weight="bold" font-style="normal" text-anchor="start" fill="#111"  stroke="#111" stroke-width="0.1">Dissect</text>
<text x="128.20" y="67.98" font-size="4.95" font-weight="bold" font-style="normal" text-anchor="start" fill="#111"  stroke="#111" stroke-width="0.1">thoracic</text>
<text x="128.20" y="73.88" font-size="4.95" font-weight="bold" font-style="normal" text-anchor="start" fill="#111"  stroke="#111" stroke-width="0.1">muscles</text>
<path d="M149.2 64.6H153.4" stroke="#111" stroke-width="0.8" fill="none"/>
<path d="M155.7 64.6l-2.9 -1.4v2.8z" fill="#111"/>
<g>
<path d="M159.8 56.0L167.9 54.6L168.6 69.7L160.4 70.3Z" fill="#3b8fb2"/>
<path d="M159.8 56.0L167.9 54.6L168.0 56.0L159.9 57.3Z" fill="#2f7d9e"/>
<path d="M167.6 54.6L171.2 53.9L171.0 71.4L168.4 69.8Z" fill="#ebe8df"/>
<path d="M169.2 54.2C168.6 57.5 171.6 59.6 170.8 62.6C169.6 65.0 171.2 67.5 170.6 71.2L172.4 71.5L172.4 53.8Z" fill="#2a80a2"/>
<path d="M171.6 53.9L181.1 53.4L181.5 71.9L171.6 71.5Z" fill="#2a80a2"/>
<path d="M181.1 53.6L183.1 54.8L183.3 70.2L181.5 71.6Z" fill="#d9d3c3"/>
<circle cx="169.6" cy="63.9" r="1.5" fill="#e4e0d6"/>
<rect x="172.3" y="58.8" width="5.0" height="7.4" fill="#1e6b8b"/>
<rect x="174.0" y="59.7" width="1.5" height="4.0" fill="#4b9ab8"/>
<rect x="174.45" y="60.2" width="0.6" height="2.8" fill="#1a3f50"/>
<rect x="171.8" y="66.9" width="5.2" height="1.2" fill="#0f3a4c"/>
<circle cx="164.2" cy="64.0" r="2.0" fill="#7fb4c8"/><circle cx="164.2" cy="64.0" r="1.35" fill="#3f4c55"/>
<rect x="161.4" y="57.7" width="1.7" height="1.5" fill="#235f7a"/>
<rect x="165.5" y="56.2" width="1.6" height="3.4" fill="#1f5570"/>
<rect x="161.0" y="66.5" width="1.0" height="2.8" fill="#2a7393"/>
<circle cx="179.7" cy="55.6" r="0.45" fill="#7fe08a"/>
</g>
<text x="152.00" y="79.70" font-size="5.0" font-weight="bold" font-style="normal" text-anchor="start" fill="#111"  stroke="#111" stroke-width="0.1">LC-MS/MS analysis</text>
<text x="31.90" y="183.36" font-size="7.4" font-weight="normal" font-style="normal" text-anchor="start" fill="#1a1a1a" stroke="#1a1a1a" stroke-width="0.14">Glycolysis</text>
<text x="50.20" y="194.10" font-size="4.1" text-anchor="middle" fill="#1a1a1a" stroke="#1a1a1a" stroke-width="0.16">[U-<tspan font-size="2.3" dy="-1.2">13</tspan><tspan dy="1.2">C</tspan><tspan font-size="2.3" dy="0.7">6</tspan><tspan dy="-0.7">]glucose</tspan></text>
<circle cx="42.58" cy="197.60" r="1.3" fill="#e8241a" stroke="#3f0c08" stroke-width="0.55"/>
<circle cx="45.62" cy="197.60" r="1.3" fill="#e8241a" stroke="#3f0c08" stroke-width="0.55"/>
<circle cx="48.68" cy="197.60" r="1.3" fill="#e8241a" stroke="#3f0c08" stroke-width="0.55"/>
<circle cx="51.73" cy="197.60" r="1.3" fill="#e8241a" stroke="#3f0c08" stroke-width="0.55"/>
<circle cx="54.78" cy="197.60" r="1.3" fill="#e8241a" stroke="#3f0c08" stroke-width="0.55"/>
<circle cx="57.83" cy="197.60" r="1.3" fill="#e8241a" stroke="#3f0c08" stroke-width="0.55"/>
<circle cx="42.58" cy="211.20" r="1.3" fill="#e8241a" stroke="#3f0c08" stroke-width="0.55"/>
<circle cx="45.62" cy="211.20" r="1.3" fill="#e8241a" stroke="#3f0c08" stroke-width="0.55"/>
<circle cx="48.68" cy="211.20" r="1.3" fill="#e8241a" stroke="#3f0c08" stroke-width="0.55"/>
<circle cx="51.73" cy="211.20" r="1.3" fill="#e8241a" stroke="#3f0c08" stroke-width="0.55"/>
<circle cx="54.78" cy="211.20" r="1.3" fill="#e8241a" stroke="#3f0c08" stroke-width="0.55"/>
<circle cx="57.83" cy="211.20" r="1.3" fill="#e8241a" stroke="#3f0c08" stroke-width="0.55"/>
<circle cx="42.58" cy="225.00" r="1.3" fill="#e8241a" stroke="#3f0c08" stroke-width="0.55"/>
<circle cx="45.62" cy="225.00" r="1.3" fill="#e8241a" stroke="#3f0c08" stroke-width="0.55"/>
<circle cx="48.68" cy="225.00" r="1.3" fill="#e8241a" stroke="#3f0c08" stroke-width="0.55"/>
<circle cx="51.73" cy="225.00" r="1.3" fill="#e8241a" stroke="#3f0c08" stroke-width="0.55"/>
<circle cx="54.78" cy="225.00" r="1.3" fill="#e8241a" stroke="#3f0c08" stroke-width="0.55"/>
<circle cx="57.83" cy="225.00" r="1.3" fill="#e8241a" stroke="#3f0c08" stroke-width="0.55"/>
<circle cx="42.58" cy="238.80" r="1.3" fill="#e8241a" stroke="#3f0c08" stroke-width="0.55"/>
<circle cx="45.62" cy="238.80" r="1.3" fill="#e8241a" stroke="#3f0c08" stroke-width="0.55"/>
<circle cx="48.68" cy="238.80" r="1.3" fill="#e8241a" stroke="#3f0c08" stroke-width="0.55"/>
<circle cx="51.73" cy="238.80" r="1.3" fill="#e8241a" stroke="#3f0c08" stroke-width="0.55"/>
<circle cx="54.78" cy="238.80" r="1.3" fill="#e8241a" stroke="#3f0c08" stroke-width="0.55"/>
<circle cx="57.83" cy="238.80" r="1.3" fill="#e8241a" stroke="#3f0c08" stroke-width="0.55"/>
<circle cx="47.15" cy="252.20" r="1.3" fill="#e8241a" stroke="#3f0c08" stroke-width="0.55"/>
<circle cx="50.20" cy="252.20" r="1.3" fill="#e8241a" stroke="#3f0c08" stroke-width="0.55"/>
<circle cx="53.25" cy="252.20" r="1.3" fill="#e8241a" stroke="#3f0c08" stroke-width="0.55"/>
<circle cx="47.15" cy="265.20" r="1.3" fill="#e8241a" stroke="#3f0c08" stroke-width="0.55"/>
<circle cx="50.20" cy="265.20" r="1.3" fill="#e8241a" stroke="#3f0c08" stroke-width="0.55"/>
<circle cx="53.25" cy="265.20" r="1.3" fill="#e8241a" stroke="#3f0c08" stroke-width="0.55"/>
<circle cx="47.15" cy="277.80" r="1.3" fill="#e8241a" stroke="#3f0c08" stroke-width="0.55"/>
<circle cx="50.20" cy="277.80" r="1.3" fill="#e8241a" stroke="#3f0c08" stroke-width="0.55"/>
<circle cx="53.25" cy="277.80" r="1.3" fill="#e8241a" stroke="#3f0c08" stroke-width="0.55"/>
<circle cx="47.15" cy="290.40" r="1.3" fill="#e8241a" stroke="#3f0c08" stroke-width="0.55"/>
<circle cx="50.20" cy="290.40" r="1.3" fill="#e8241a" stroke="#3f0c08" stroke-width="0.55"/>
<circle cx="53.25" cy="290.40" r="1.3" fill="#e8241a" stroke="#3f0c08" stroke-width="0.55"/>
<circle cx="47.15" cy="303.30" r="1.3" fill="#e8241a" stroke="#3f0c08" stroke-width="0.55"/>
<circle cx="50.20" cy="303.30" r="1.3" fill="#e8241a" stroke="#3f0c08" stroke-width="0.55"/>
<circle cx="53.25" cy="303.30" r="1.3" fill="#e8241a" stroke="#3f0c08" stroke-width="0.55"/>
<circle cx="47.15" cy="315.00" r="1.3" fill="#e8241a" stroke="#3f0c08" stroke-width="0.55"/>
<circle cx="50.20" cy="315.00" r="1.3" fill="#e8241a" stroke="#3f0c08" stroke-width="0.55"/>
<circle cx="53.25" cy="315.00" r="1.3" fill="#e8241a" stroke="#3f0c08" stroke-width="0.55"/>
<text x="50.20" y="207.98" font-size="4.1" font-weight="normal" font-style="normal" text-anchor="middle" fill="#1a1a1a"  stroke="#1a1a1a" stroke-width="0.16">G6P</text>
<text x="50.20" y="221.68" font-size="4.1" font-weight="normal" font-style="normal" text-anchor="middle" fill="#1a1a1a"  stroke="#1a1a1a" stroke-width="0.16">F6P</text>
<text x="50.20" y="235.48" font-size="4.1" font-weight="normal" font-style="normal" text-anchor="middle" fill="#1a1a1a"  stroke="#1a1a1a" stroke-width="0.16">F16BP</text>
<text x="50.20" y="249.08" font-size="4.1" font-weight="normal" font-style="normal" text-anchor="middle" fill="#1a1a1a"  stroke="#1a1a1a" stroke-width="0.16">GAP</text>
<text x="50.20" y="262.78" font-size="4.1" font-weight="normal" font-style="normal" text-anchor="middle" fill="#1a1a1a"  stroke="#1a1a1a" stroke-width="0.16">1,3BPG</text>
<text x="50.20" y="275.18" font-size="4.1" font-weight="normal" font-style="normal" text-anchor="middle" fill="#1a1a1a"  stroke="#1a1a1a" stroke-width="0.16">3PG</text>
<text x="50.20" y="287.48" font-size="4.1" font-weight="normal" font-style="normal" text-anchor="middle" fill="#1a1a1a"  stroke="#1a1a1a" stroke-width="0.16">2PG</text>
<text x="50.20" y="300.38" font-size="4.1" font-weight="normal" font-style="normal" text-anchor="middle" fill="#1a1a1a"  stroke="#1a1a1a" stroke-width="0.16">PEP</text>
<text x="50.20" y="312.08" font-size="4.1" font-weight="normal" font-style="normal" text-anchor="middle" fill="#1a1a1a"  stroke="#1a1a1a" stroke-width="0.16">Pyruvate</text>
<path d="M50.20 199.80V203.10" stroke="#1a1a1a" stroke-width="0.6" fill="none"/>
<path d="M50.20 204.00l-0.8 -1.4h1.6z" fill="#1a1a1a"/>
<path d="M49.45 214.40V217.40M50.95 213.80V216.80" stroke="#1a1a1a" stroke-width="0.65" fill="none"/>
<path d="M49.45 213.40l-0.8 1.4h1.6zM50.95 217.80l-0.8 -1.4h1.6z" fill="#1a1a1a"/>
<path d="M49.45 228.20V231.20M50.95 227.60V230.60" stroke="#1a1a1a" stroke-width="0.65" fill="none"/>
<path d="M49.45 227.20l-0.8 1.4h1.6zM50.95 231.60l-0.8 -1.4h1.6z" fill="#1a1a1a"/>
<path d="M49.45 242.00V244.80M50.95 241.40V244.20" stroke="#1a1a1a" stroke-width="0.65" fill="none"/>
<path d="M49.45 241.00l-0.8 1.4h1.6zM50.95 245.20l-0.8 -1.4h1.6z" fill="#1a1a1a"/>
<path d="M49.45 255.60V258.40M50.95 255.00V257.80" stroke="#1a1a1a" stroke-width="0.65" fill="none"/>
<path d="M49.45 254.60l-0.8 1.4h1.6zM50.95 258.80l-0.8 -1.4h1.6z" fill="#1a1a1a"/>
<path d="M49.45 268.40V270.80M50.95 267.80V270.20" stroke="#1a1a1a" stroke-width="0.65" fill="none"/>
<path d="M49.45 267.40l-0.8 1.4h1.6zM50.95 271.20l-0.8 -1.4h1.6z" fill="#1a1a1a"/>
<path d="M49.45 281.00V283.20M50.95 280.40V282.60" stroke="#1a1a1a" stroke-width="0.65" fill="none"/>
<path d="M49.45 280.00l-0.8 1.4h1.6zM50.95 283.60l-0.8 -1.4h1.6z" fill="#1a1a1a"/>
<path d="M49.45 293.60V296.00M50.95 293.00V295.40" stroke="#1a1a1a" stroke-width="0.65" fill="none"/>
<path d="M49.45 292.60l-0.8 1.4h1.6zM50.95 296.40l-0.8 -1.4h1.6z" fill="#1a1a1a"/>
<path d="M50.20 305.40V307.30" stroke="#1a1a1a" stroke-width="0.6" fill="none"/>
<path d="M50.20 308.20l-0.8 -1.4h1.6z" fill="#1a1a1a"/>
<text x="57.10" y="205.18" font-size="4.1" font-weight="normal" font-style="italic" text-anchor="start" fill="#1a1a1a"  stroke="#1a1a1a" stroke-width="0.16">Hex-a/b</text>
<text x="57.50" y="219.18" font-size="4.1" font-weight="normal" font-style="italic" text-anchor="start" fill="#1a1a1a"  stroke="#1a1a1a" stroke-width="0.16">Pgi</text>
<text x="57.50" y="231.88" font-size="4.1" font-weight="normal" font-style="italic" text-anchor="start" fill="#1a1a1a"  stroke="#1a1a1a" stroke-width="0.16">Pfk</text>
<text x="57.50" y="245.38" font-size="4.1" font-weight="normal" font-style="italic" text-anchor="start" fill="#1a1a1a"  stroke="#1a1a1a" stroke-width="0.16">Aldo</text>
<text x="54.00" y="257.98" font-size="4.1" font-weight="normal" font-style="italic" text-anchor="start" fill="#1a1a1a"  stroke="#1a1a1a" stroke-width="0.16">GAPDH1/2</text>
<text x="57.00" y="272.18" font-size="4.1" font-weight="normal" font-style="italic" text-anchor="start" fill="#1a1a1a"  stroke="#1a1a1a" stroke-width="0.16">Pgk</text>
<text x="57.00" y="284.28" font-size="4.1" font-weight="normal" font-style="italic" text-anchor="start" fill="#1a1a1a"  stroke="#1a1a1a" stroke-width="0.16">Pgam1</text>
<text x="57.50" y="296.38" font-size="4.1" font-weight="normal" font-style="italic" text-anchor="start" fill="#1a1a1a"  stroke="#1a1a1a" stroke-width="0.16">Eno</text>
<text x="57.50" y="307.88" font-size="4.1" font-weight="normal" font-style="italic" text-anchor="start" fill="#1a1a1a"  stroke="#1a1a1a" stroke-width="0.16">Pyk</text>
<text x="26.30" y="248.28" font-size="4.1" font-weight="normal" font-style="normal" text-anchor="middle" fill="#1a1a1a"  stroke="#1a1a1a" stroke-width="0.16">DHAP</text>
<circle cx="23.35" cy="252.30" r="1.3" fill="#e8241a" stroke="#3f0c08" stroke-width="0.55"/>
<circle cx="26.40" cy="252.30" r="1.3" fill="#e8241a" stroke="#3f0c08" stroke-width="0.55"/>
<circle cx="29.45" cy="252.30" r="1.3" fill="#e8241a" stroke="#3f0c08" stroke-width="0.55"/>
<path d="M36.00 247.65H41.80M35.40 249.15H41.20" stroke="#1a1a1a" stroke-width="0.7" fill="none"/>
<path d="M35.00 247.65l1.4 -0.8v1.6zM42.20 249.15l-1.4 -0.8v1.6z" fill="#1a1a1a"/>
<g transform="rotate(-33 35.8 242.8)">
<path d="M33.80 242.05H38.40M33.20 243.55H37.80" stroke="#1a1a1a" stroke-width="0.7" fill="none"/>
<path d="M32.80 242.05l1.4 -0.8v1.6zM38.80 243.55l-1.4 -0.8v1.6z" fill="#1a1a1a"/>
</g>
<text x="21.80" y="312.08" font-size="4.1" font-weight="normal" font-style="normal" text-anchor="middle" fill="#1a1a1a"  stroke="#1a1a1a" stroke-width="0.16">Lactate</text>
<circle cx="20.10" cy="315.00" r="1.3" fill="#e8241a" stroke="#3f0c08" stroke-width="0.55"/>
<circle cx="23.15" cy="315.00" r="1.3" fill="#e8241a" stroke="#3f0c08" stroke-width="0.55"/>
<circle cx="26.20" cy="315.00" r="1.3" fill="#e8241a" stroke="#3f0c08" stroke-width="0.55"/>
<text x="35.80" y="308.28" font-size="4.1" font-weight="normal" font-style="italic" text-anchor="middle" fill="#1a1a1a"  stroke="#1a1a1a" stroke-width="0.16">Ldh</text>
<path d="M33.50 310.65H40.10M32.90 312.15H39.50" stroke="#1a1a1a" stroke-width="0.7" fill="none"/>
<path d="M32.50 310.65l1.4 -0.8v1.6zM40.50 312.15l-1.4 -0.8v1.6z" fill="#1a1a1a"/>
<path d="M61.2 311.4H79.7V197.6H110.4" stroke="#1a1a1a" stroke-width="0.8" fill="none"/>
<path d="M112.6 197.6l-2.6 -1.2v2.4z" fill="#1a1a1a"/>
<text x="126.70" y="198.46" font-size="4.6" font-weight="normal" font-style="normal" text-anchor="middle" fill="#1a1a1a"  stroke="#1a1a1a" stroke-width="0.16">Pyruvate</text>
<circle cx="121.67" cy="203.30" r="1.42" fill="#e8241a" stroke="#3f0c08" stroke-width="0.55"/>
<circle cx="124.97" cy="203.30" r="1.42" fill="#e8241a" stroke="#3f0c08" stroke-width="0.55"/>
<circle cx="128.27" cy="203.30" r="1.42" fill="#e8241a" stroke="#3f0c08" stroke-width="0.55"/>
<path d="M125.2 207.2V212.6M125.3 209.6C126.0 210.9 127.5 211.2 129.0 211.4" stroke="#1a1a1a" stroke-width="0.7" fill="none"/>
<path d="M125.2 214.2l-0.9 -1.8h1.8zM130.4 211.5l-1.7 -0.9v1.8z" fill="#1a1a1a"/>
<circle cx="133.87" cy="211.80" r="1.42" fill="#e8241a" stroke="#3f0c08" stroke-width="0.55"/>
<text x="127.50" y="220.16" font-size="4.6" font-weight="normal" font-style="normal" text-anchor="middle" fill="#1a1a1a"  stroke="#1a1a1a" stroke-width="0.16">Acetyl-CoA</text>
<circle cx="123.57" cy="225.00" r="1.42" fill="#e8241a" stroke="#3f0c08" stroke-width="0.55"/>
<circle cx="126.87" cy="225.00" r="1.42" fill="#e8241a" stroke="#3f0c08" stroke-width="0.55"/>
<text x="97.70" y="230.86" font-size="4.6" font-weight="normal" font-style="normal" text-anchor="middle" fill="#1a1a1a"  stroke="#1a1a1a" stroke-width="0.16">Aspartate</text>
<circle cx="90.87" cy="235.90" r="1.42" fill="#e8241a" stroke="#3f0c08" stroke-width="0.55"/>
<circle cx="94.17" cy="235.90" r="1.42" fill="#e8241a" stroke="#3f0c08" stroke-width="0.55"/>
<circle cx="97.47" cy="235.90" r="1.42" fill="#fff" stroke="#222" stroke-width="0.5"/>
<circle cx="100.77" cy="235.90" r="1.42" fill="#fff" stroke="#222" stroke-width="0.5"/>
<path d="M94.85 241.20V244.40M96.35 240.60V243.80" stroke="#1a1a1a" stroke-width="0.65" fill="none"/>
<path d="M94.85 240.20l-0.8 1.4h1.6zM96.35 244.80l-0.8 -1.4h1.6z" fill="#1a1a1a"/>
<circle cx="90.57" cy="249.30" r="1.42" fill="#e8241a" stroke="#3f0c08" stroke-width="0.55"/>
<circle cx="93.87" cy="249.30" r="1.42" fill="#e8241a" stroke="#3f0c08" stroke-width="0.55"/>
<circle cx="97.17" cy="249.30" r="1.42" fill="#fff" stroke="#222" stroke-width="0.5"/>
<circle cx="100.47" cy="249.30" r="1.42" fill="#fff" stroke="#222" stroke-width="0.5"/>
<text x="103.80" y="250.46" font-size="4.6" font-weight="normal" font-style="normal" text-anchor="start" fill="#1a1a1a"  stroke="#1a1a1a" stroke-width="0.16">Oxaloacetate</text>
<text x="154.00" y="241.46" font-size="4.6" font-weight="normal" font-style="normal" text-anchor="start" fill="#1a1a1a"  stroke="#1a1a1a" stroke-width="0.16">Citrate</text>
<circle cx="155.67" cy="234.10" r="1.42" fill="#e8241a" stroke="#3f0c08" stroke-width="0.55"/>
<circle cx="158.97" cy="234.10" r="1.42" fill="#e8241a" stroke="#3f0c08" stroke-width="0.55"/>
<circle cx="162.27" cy="234.10" r="1.42" fill="#fff" stroke="#222" stroke-width="0.5"/>
<circle cx="165.57" cy="234.10" r="1.42" fill="#fff" stroke="#222" stroke-width="0.5"/>
<circle cx="168.87" cy="234.10" r="1.42" fill="#fff" stroke="#222" stroke-width="0.5"/>
<circle cx="172.17" cy="234.10" r="1.42" fill="#fff" stroke="#222" stroke-width="0.5"/>
<circle cx="161.90" cy="230.40" r="1.42" fill="#fff" stroke="#222" stroke-width="0.5"/>
<text x="171.50" y="256.76" font-size="4.6" font-weight="normal" font-style="normal" text-anchor="middle" fill="#1a1a1a"  stroke="#1a1a1a" stroke-width="0.16">Isocitrate</text>
<text x="169.40" y="279.06" font-size="4.6" font-weight="normal" font-style="normal" text-anchor="middle" fill="#1a1a1a"  stroke="#1a1a1a" stroke-width="0.16">&#945;-KG</text>
<circle cx="177.77" cy="278.10" r="1.42" fill="#e8241a" stroke="#3f0c08" stroke-width="0.55"/>
<circle cx="181.07" cy="278.10" r="1.42" fill="#e8241a" stroke="#3f0c08" stroke-width="0.55"/>
<circle cx="184.37" cy="278.10" r="1.42" fill="#fff" stroke="#222" stroke-width="0.5"/>
<circle cx="187.67" cy="278.10" r="1.42" fill="#fff" stroke="#222" stroke-width="0.5"/>
<circle cx="190.97" cy="278.10" r="1.42" fill="#fff" stroke="#222" stroke-width="0.5"/>
<path d="M187.25 283.40V286.60M188.75 282.80V286.00" stroke="#1a1a1a" stroke-width="0.65" fill="none"/>
<path d="M187.25 282.40l-0.8 1.4h1.6zM188.75 287.00l-0.8 -1.4h1.6z" fill="#1a1a1a"/>
<circle cx="180.67" cy="291.70" r="1.42" fill="#e8241a" stroke="#3f0c08" stroke-width="0.55"/>
<circle cx="183.97" cy="291.70" r="1.42" fill="#e8241a" stroke="#3f0c08" stroke-width="0.55"/>
<circle cx="187.27" cy="291.70" r="1.42" fill="#fff" stroke="#222" stroke-width="0.5"/>
<circle cx="190.57" cy="291.70" r="1.42" fill="#fff" stroke="#222" stroke-width="0.5"/>
<circle cx="193.87" cy="291.70" r="1.42" fill="#fff" stroke="#222" stroke-width="0.5"/>
<text x="179.10" y="298.66" font-size="4.6" font-weight="normal" font-style="normal" text-anchor="start" fill="#1a1a1a"  stroke="#1a1a1a" stroke-width="0.16">Glutamate</text>
<text x="157.00" y="291.36" font-size="4.6" font-weight="normal" font-style="normal" text-anchor="middle" fill="#1a1a1a"  stroke="#1a1a1a" stroke-width="0.16">Succinate</text>
<circle cx="157.87" cy="295.50" r="1.42" fill="#e8241a" stroke="#3f0c08" stroke-width="0.55"/>
<circle cx="161.17" cy="295.50" r="1.42" fill="#e8241a" stroke="#3f0c08" stroke-width="0.55"/>
<circle cx="164.47" cy="295.50" r="1.42" fill="#fff" stroke="#222" stroke-width="0.5"/>
<circle cx="167.77" cy="295.50" r="1.42" fill="#fff" stroke="#222" stroke-width="0.5"/>
<text x="133.10" y="294.16" font-size="4.6" font-weight="normal" font-style="normal" text-anchor="middle" fill="#1a1a1a"  stroke="#1a1a1a" stroke-width="0.16">Fumarate</text>
<circle cx="122.47" cy="297.70" r="1.42" fill="#e8241a" stroke="#3f0c08" stroke-width="0.55"/>
<circle cx="125.77" cy="297.70" r="1.42" fill="#e8241a" stroke="#3f0c08" stroke-width="0.55"/>
<circle cx="129.07" cy="297.70" r="1.42" fill="#fff" stroke="#222" stroke-width="0.5"/>
<circle cx="132.37" cy="297.70" r="1.42" fill="#fff" stroke="#222" stroke-width="0.5"/>
<text x="115.90" y="279.86" font-size="4.6" font-weight="normal" font-style="normal" text-anchor="middle" fill="#1a1a1a"  stroke="#1a1a1a" stroke-width="0.16">Malate</text>
<circle cx="94.97" cy="278.60" r="1.42" fill="#e8241a" stroke="#3f0c08" stroke-width="0.55"/>
<circle cx="98.27" cy="278.60" r="1.42" fill="#e8241a" stroke="#3f0c08" stroke-width="0.55"/>
<circle cx="101.57" cy="278.60" r="1.42" fill="#fff" stroke="#222" stroke-width="0.5"/>
<circle cx="104.87" cy="278.60" r="1.42" fill="#fff" stroke="#222" stroke-width="0.5"/>
<text x="142.00" y="267.03" font-size="6.2" font-weight="normal" font-style="normal" text-anchor="middle" fill="#1a1a1a" stroke="#1a1a1a" stroke-width="0.14">TCA cycle</text>
<path d="M118.85 245.42A30.0 30.0 0 0 1 151.77 236.13" stroke="#1a1a1a" stroke-width="0.8" fill="none"/>
<path d="M153.37 236.69L151.46 237.03L152.08 235.24z" fill="#1a1a1a"/>
<path d="M161.68 241.86A30.0 30.0 0 0 1 168.49 250.42" stroke="#1a1a1a" stroke-width="0.8" fill="none"/>
<path d="M169.29 251.92L167.65 250.86L169.33 249.97z" fill="#1a1a1a"/>
<path d="M151.77 292.87A30.0 30.0 0 0 1 145.14 294.34" stroke="#1a1a1a" stroke-width="0.8" fill="none"/>
<path d="M143.45 294.51L145.04 293.39L145.24 295.28z" fill="#1a1a1a"/>
<path d="M125.22 289.37A30.0 30.0 0 0 1 118.04 282.55" stroke="#1a1a1a" stroke-width="0.8" fill="none"/>
<path d="M117.02 281.20L118.80 281.98L117.28 283.13z" fill="#1a1a1a"/>
<path d="M113.63 274.27A30.0 30.0 0 0 1 113.99 253.75" stroke="#1a1a1a" stroke-width="0.8" fill="none"/>
<path d="M114.60 252.16L114.88 254.09L113.11 253.41z" fill="#1a1a1a"/>
<path d="M127.1 229.0C129.0 232.0 131.5 234.3 135.5 235.2" stroke="#1a1a1a" stroke-width="0.8" fill="none"/>
<path d="M170.5 258.9L169.8 270.6" stroke="#1a1a1a" stroke-width="0.8" fill="none"/>
<path d="M169.6 272.6l-0.9 -2.0h2.0z" fill="#1a1a1a"/>
<path d="M170.3 263.0C170.8 265.8 172.4 267.6 175.0 268.4" stroke="#1a1a1a" stroke-width="0.7" fill="none"/>
<circle cx="177.30" cy="268.90" r="1.42" fill="#fff" stroke="#222" stroke-width="0.5"/>
<path d="M167.1 279.9L162.4 285.8" stroke="#1a1a1a" stroke-width="0.8" fill="none"/>
<path d="M161.2 287.3l0.5 -2.2l1.6 1.3z" fill="#1a1a1a"/>
<path d="M165.4 282.2C166.2 284.4 167.6 285.6 169.6 286.3" stroke="#1a1a1a" stroke-width="0.7" fill="none"/>
<circle cx="171.70" cy="286.90" r="1.42" fill="#fff" stroke="#222" stroke-width="0.5"/>
</svg></body></html>
